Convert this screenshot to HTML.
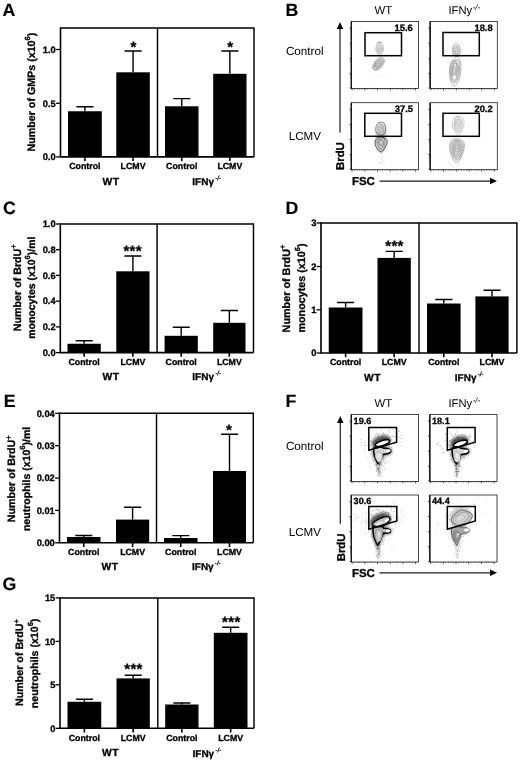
<!DOCTYPE html>
<html lang="en"><head><meta charset="utf-8"><title>Figure</title>
<style>html,body{margin:0;padding:0;background:#fff}body{width:520px;height:763px;overflow:hidden}svg{display:block}text{font-family:"Liberation Sans",sans-serif;fill:#000;text-rendering:geometricPrecision}.b{stroke:#000;stroke-width:0.3px}</style>
</head><body>
<svg width="520" height="763" viewBox="0 0 520 763">
<defs><filter id="b1" x="-50%" y="-50%" width="200%" height="200%"><feGaussianBlur stdDeviation="1.2"/></filter><filter id="b2" x="-50%" y="-50%" width="200%" height="200%"><feGaussianBlur stdDeviation="1.6"/></filter></defs>
<rect width="520" height="763" fill="#fff"/>
<text class="b" x="2.56" y="15.6" font-size="17.8" font-weight="bold" text-anchor="start" style="stroke-width:0.15px">A</text>
<text class="b" x="285.41" y="15.5" font-size="17.8" font-weight="bold" text-anchor="start" style="stroke-width:0.15px">B</text>
<text class="b" x="3.07" y="214.4" font-size="17.8" font-weight="bold" text-anchor="start" style="stroke-width:0.15px">C</text>
<text class="b" x="285.41" y="214.3" font-size="17.8" font-weight="bold" text-anchor="start" style="stroke-width:0.15px">D</text>
<text class="b" x="3.71" y="407" font-size="17.8" font-weight="bold" text-anchor="start" style="stroke-width:0.15px">E</text>
<text class="b" x="285.61" y="406.8" font-size="17.8" font-weight="bold" text-anchor="start" style="stroke-width:0.15px">F</text>
<text class="b" x="2.57" y="589.9" font-size="17.8" font-weight="bold" text-anchor="start" style="stroke-width:0.15px">G</text>
<g id="panelA">
<path d="M60.5 27.25V156.9M59.75 156.9H254" stroke="#000" stroke-width="1.6" fill="none"/>
<path d="M60.5 28H254V156.9M157.5 28V156.9" stroke="#000" stroke-width="1.45" fill="none"/>
<path d="M56.1 49.5H60.5" stroke="#000" stroke-width="1.3"/>
<text class="b" x="55.8" y="52.75" font-size="9.3" font-weight="bold" text-anchor="end" >1.0</text>
<path d="M56.1 103.3H60.5" stroke="#000" stroke-width="1.3"/>
<text class="b" x="55.8" y="106.55" font-size="9.3" font-weight="bold" text-anchor="end" >0.5</text>
<path d="M56.1 156.9H60.5" stroke="#000" stroke-width="1.3"/>
<text class="b" x="55.8" y="160.15" font-size="9.3" font-weight="bold" text-anchor="end" >0.0</text>
<rect x="68" y="111.25" width="33.8" height="45.650000000000006" fill="#000"/>
<path d="M84.9 111.25V106.75M76.4 106.75H93.5" stroke="#000" stroke-width="1.4" fill="none"/>
<path d="M84.9 156.9V161.1" stroke="#000" stroke-width="1.6"/>
<text class="b" x="84.9" y="169.0" font-size="8.8" font-weight="bold" text-anchor="middle" >Control</text>
<rect x="116.3" y="72.3" width="33.500000000000014" height="84.60000000000001" fill="#000"/>
<path d="M133.05 72.3V51M124.55000000000001 51H141.65" stroke="#000" stroke-width="1.4" fill="none"/>
<path d="M133.05 156.9V161.1" stroke="#000" stroke-width="1.6"/>
<text class="b" x="133.05" y="169.0" font-size="8.8" font-weight="bold" text-anchor="middle" >LCMV</text>
<rect x="165" y="106.3" width="33.5" height="50.60000000000001" fill="#000"/>
<path d="M181.75 106.3V98.6M173.25 98.6H190.35" stroke="#000" stroke-width="1.4" fill="none"/>
<path d="M181.75 156.9V161.1" stroke="#000" stroke-width="1.6"/>
<text class="b" x="181.75" y="169.0" font-size="8.8" font-weight="bold" text-anchor="middle" >Control</text>
<rect x="213.2" y="73.8" width="33.30000000000001" height="83.10000000000001" fill="#000"/>
<path d="M229.85 73.8V51M221.35 51H238.45" stroke="#000" stroke-width="1.4" fill="none"/>
<path d="M229.85 156.9V161.1" stroke="#000" stroke-width="1.6"/>
<text class="b" x="229.85" y="169.0" font-size="8.8" font-weight="bold" text-anchor="middle" >LCMV</text>
<text class="b" x="133.5" y="52.3" font-size="15" font-weight="bold" text-anchor="middle" >*</text>
<text class="b" x="230.2" y="52.3" font-size="15" font-weight="bold" text-anchor="middle" >*</text>
<text class="b" x="102.4" y="184.5" font-size="10.3" font-weight="bold" text-anchor="start" letter-spacing="0.7">WT</text>
<text class="b" x="192.3" y="185.0" font-size="10" font-weight="bold">IFNγ<tspan dx="1.2" dy="-5.2" font-size="6.2" font-style="italic" stroke-width="0.15">-/-</tspan></text>
<text class="b" transform="translate(34.5 151.5) rotate(-90)" font-size="10.7" font-weight="bold">Number of GMPs (x10<tspan dy="-5" font-size="7.5">6</tspan><tspan dy="5">)</tspan></text>
</g>
<g id="panelC">
<path d="M60.3 223.25V352.6M59.55 352.6H253.5" stroke="#000" stroke-width="1.6" fill="none"/>
<path d="M60.3 224H253.5V352.6M157.1 224V352.6" stroke="#000" stroke-width="1.45" fill="none"/>
<path d="M55.9 224H60.3" stroke="#000" stroke-width="1.3"/>
<text class="b" x="55.599999999999994" y="227.25" font-size="9.3" font-weight="bold" text-anchor="end" >1.0</text>
<path d="M55.9 249.7H60.3" stroke="#000" stroke-width="1.3"/>
<text class="b" x="55.599999999999994" y="252.95" font-size="9.3" font-weight="bold" text-anchor="end" >0.8</text>
<path d="M55.9 275.4H60.3" stroke="#000" stroke-width="1.3"/>
<text class="b" x="55.599999999999994" y="278.65" font-size="9.3" font-weight="bold" text-anchor="end" >0.6</text>
<path d="M55.9 301.2H60.3" stroke="#000" stroke-width="1.3"/>
<text class="b" x="55.599999999999994" y="304.45" font-size="9.3" font-weight="bold" text-anchor="end" >0.4</text>
<path d="M55.9 326.9H60.3" stroke="#000" stroke-width="1.3"/>
<text class="b" x="55.599999999999994" y="330.15" font-size="9.3" font-weight="bold" text-anchor="end" >0.2</text>
<path d="M55.9 352.6H60.3" stroke="#000" stroke-width="1.3"/>
<text class="b" x="55.599999999999994" y="355.85" font-size="9.3" font-weight="bold" text-anchor="end" >0.0</text>
<rect x="67.5" y="343.75" width="33.25" height="8.850000000000023" fill="#000"/>
<path d="M84.125 343.75V340.75M75.625 340.75H92.725" stroke="#000" stroke-width="1.4" fill="none"/>
<path d="M84.125 352.6V356.8" stroke="#000" stroke-width="1.6"/>
<text class="b" x="84.125" y="364.5" font-size="8.8" font-weight="bold" text-anchor="middle" >Control</text>
<rect x="116.3" y="271.3" width="33.2" height="81.30000000000001" fill="#000"/>
<path d="M132.9 271.3V256M124.4 256H141.5" stroke="#000" stroke-width="1.4" fill="none"/>
<path d="M132.9 352.6V356.8" stroke="#000" stroke-width="1.6"/>
<text class="b" x="132.9" y="364.5" font-size="8.8" font-weight="bold" text-anchor="middle" >LCMV</text>
<rect x="164.6" y="335.8" width="33.20000000000002" height="16.80000000000001" fill="#000"/>
<path d="M181.2 335.8V327.2M172.7 327.2H189.79999999999998" stroke="#000" stroke-width="1.4" fill="none"/>
<path d="M181.2 352.6V356.8" stroke="#000" stroke-width="1.6"/>
<text class="b" x="181.2" y="364.5" font-size="8.8" font-weight="bold" text-anchor="middle" >Control</text>
<rect x="213.2" y="322.8" width="32.30000000000001" height="29.80000000000001" fill="#000"/>
<path d="M229.35 322.8V310.5M220.85 310.5H237.95" stroke="#000" stroke-width="1.4" fill="none"/>
<path d="M229.35 352.6V356.8" stroke="#000" stroke-width="1.6"/>
<text class="b" x="229.35" y="364.5" font-size="8.8" font-weight="bold" text-anchor="middle" >LCMV</text>
<text class="b" x="132.7" y="256.1" font-size="15" font-weight="bold" text-anchor="middle" letter-spacing="0.35">***</text>
<text class="b" x="102.4" y="379.8" font-size="10.3" font-weight="bold" text-anchor="start" letter-spacing="0.7">WT</text>
<text class="b" x="192.3" y="380.3" font-size="10" font-weight="bold">IFNγ<tspan dx="1.2" dy="-5.2" font-size="6.2" font-style="italic" stroke-width="0.15">-/-</tspan></text>
<text class="b" transform="translate(20.5 331.2) rotate(-90)" font-size="10.7" font-weight="bold">Number of BrdU<tspan dy="-4.6" font-size="7.5">+</tspan></text>
<text class="b" transform="translate(35.2 338.8) rotate(-90)" font-size="10.5" font-weight="bold">monocytes (x10<tspan dy="-5" font-size="7.5">6</tspan><tspan dy="5">)/ml</tspan></text>
</g>
<g id="panelD">
<path d="M321 222.15V353M320.25 353H516.9" stroke="#000" stroke-width="1.6" fill="none"/>
<path d="M321 222.9H516.9V353M419 222.9V353" stroke="#000" stroke-width="1.45" fill="none"/>
<path d="M316.6 223H321" stroke="#000" stroke-width="1.3"/>
<text class="b" x="316.3" y="226.25" font-size="9.3" font-weight="bold" text-anchor="end" >3</text>
<path d="M316.6 266.5H321" stroke="#000" stroke-width="1.3"/>
<text class="b" x="316.3" y="269.75" font-size="9.3" font-weight="bold" text-anchor="end" >2</text>
<path d="M316.6 309.8H321" stroke="#000" stroke-width="1.3"/>
<text class="b" x="316.3" y="313.05" font-size="9.3" font-weight="bold" text-anchor="end" >1</text>
<path d="M316.6 353H321" stroke="#000" stroke-width="1.3"/>
<text class="b" x="316.3" y="356.25" font-size="9.3" font-weight="bold" text-anchor="end" >0</text>
<rect x="328.75" y="307.5" width="33.75" height="45.5" fill="#000"/>
<path d="M345.625 307.5V302.5M337.125 302.5H354.225" stroke="#000" stroke-width="1.4" fill="none"/>
<path d="M345.625 353V357.2" stroke="#000" stroke-width="1.6"/>
<text class="b" x="345.625" y="365.2" font-size="8.8" font-weight="bold" text-anchor="middle" >Control</text>
<rect x="377.5" y="257.9" width="33.30000000000001" height="95.10000000000002" fill="#000"/>
<path d="M394.15 257.9V251.4M385.65 251.4H402.75" stroke="#000" stroke-width="1.4" fill="none"/>
<path d="M394.15 353V357.2" stroke="#000" stroke-width="1.6"/>
<text class="b" x="394.15" y="365.2" font-size="8.8" font-weight="bold" text-anchor="middle" >LCMV</text>
<rect x="427" y="303.5" width="33.60000000000002" height="49.5" fill="#000"/>
<path d="M443.8 303.5V299.5M435.3 299.5H452.40000000000003" stroke="#000" stroke-width="1.4" fill="none"/>
<path d="M443.8 353V357.2" stroke="#000" stroke-width="1.6"/>
<text class="b" x="443.8" y="365.2" font-size="8.8" font-weight="bold" text-anchor="middle" >Control</text>
<rect x="475.4" y="296.4" width="33.200000000000045" height="56.60000000000002" fill="#000"/>
<path d="M492.0 296.4V290.2M483.5 290.2H500.6" stroke="#000" stroke-width="1.4" fill="none"/>
<path d="M492.0 353V357.2" stroke="#000" stroke-width="1.6"/>
<text class="b" x="492.0" y="365.2" font-size="8.8" font-weight="bold" text-anchor="middle" >LCMV</text>
<text class="b" x="394.5" y="251.3" font-size="15" font-weight="bold" text-anchor="middle" letter-spacing="0.35">***</text>
<text class="b" x="363.9" y="380.59999999999997" font-size="10.3" font-weight="bold" text-anchor="start" letter-spacing="0.7">WT</text>
<text class="b" x="454.8" y="381.09999999999997" font-size="10" font-weight="bold">IFNγ<tspan dx="1.2" dy="-5.2" font-size="6.2" font-style="italic" stroke-width="0.15">-/-</tspan></text>
<text class="b" transform="translate(289.6 332.4) rotate(-90)" font-size="10.8" font-weight="bold">Number of BrdU<tspan dy="-4.6" font-size="7.5">+</tspan></text>
<text class="b" transform="translate(304.6 332.5) rotate(-90)" font-size="10.75" font-weight="bold">monocytes (x10<tspan dy="-5" font-size="7.5">6</tspan><tspan dy="5">)</tspan></text>
</g>
<g id="panelE">
<path d="M59.5 412.55V542.8M58.75 542.8H253.3" stroke="#000" stroke-width="1.6" fill="none"/>
<path d="M59.5 413.3H253.3V542.8M156.5 413.3V542.8" stroke="#000" stroke-width="1.45" fill="none"/>
<path d="M55.1 413.3H59.5" stroke="#000" stroke-width="1.3"/>
<text class="b" x="54.8" y="416.55" font-size="9.3" font-weight="bold" text-anchor="end" >0.04</text>
<path d="M55.1 445.7H59.5" stroke="#000" stroke-width="1.3"/>
<text class="b" x="54.8" y="448.95" font-size="9.3" font-weight="bold" text-anchor="end" >0.03</text>
<path d="M55.1 478.1H59.5" stroke="#000" stroke-width="1.3"/>
<text class="b" x="54.8" y="481.35" font-size="9.3" font-weight="bold" text-anchor="end" >0.02</text>
<path d="M55.1 510.4H59.5" stroke="#000" stroke-width="1.3"/>
<text class="b" x="54.8" y="513.65" font-size="9.3" font-weight="bold" text-anchor="end" >0.01</text>
<path d="M55.1 542.8H59.5" stroke="#000" stroke-width="1.3"/>
<text class="b" x="54.8" y="546.05" font-size="9.3" font-weight="bold" text-anchor="end" >0.00</text>
<rect x="67" y="537" width="33.5" height="5.7999999999999545" fill="#000"/>
<path d="M83.75 537V535.5M75.25 535.5H92.35" stroke="#000" stroke-width="1.4" fill="none"/>
<path d="M83.75 542.8V547.0" stroke="#000" stroke-width="1.6"/>
<text class="b" x="83.75" y="554.9" font-size="8.8" font-weight="bold" text-anchor="middle" >Control</text>
<rect x="116" y="519.6" width="33.19999999999999" height="23.199999999999932" fill="#000"/>
<path d="M132.6 519.6V507.3M124.1 507.3H141.2" stroke="#000" stroke-width="1.4" fill="none"/>
<path d="M132.6 542.8V547.0" stroke="#000" stroke-width="1.6"/>
<text class="b" x="132.6" y="554.9" font-size="8.8" font-weight="bold" text-anchor="middle" >LCMV</text>
<rect x="164" y="538" width="33.5" height="4.7999999999999545" fill="#000"/>
<path d="M180.75 538V535.6M172.25 535.6H189.35" stroke="#000" stroke-width="1.4" fill="none"/>
<path d="M180.75 542.8V547.0" stroke="#000" stroke-width="1.6"/>
<text class="b" x="180.75" y="554.9" font-size="8.8" font-weight="bold" text-anchor="middle" >Control</text>
<rect x="213" y="471" width="33" height="71.79999999999995" fill="#000"/>
<path d="M229.5 471V434.2M221.0 434.2H238.1" stroke="#000" stroke-width="1.4" fill="none"/>
<path d="M229.5 542.8V547.0" stroke="#000" stroke-width="1.6"/>
<text class="b" x="229.5" y="554.9" font-size="8.8" font-weight="bold" text-anchor="middle" >LCMV</text>
<text class="b" x="229" y="434.6" font-size="15" font-weight="bold" text-anchor="middle" >*</text>
<text class="b" x="101.4" y="569.8000000000001" font-size="10.3" font-weight="bold" text-anchor="start" letter-spacing="0.7">WT</text>
<text class="b" x="192" y="570.3000000000001" font-size="10" font-weight="bold">IFNγ<tspan dx="1.2" dy="-5.2" font-size="6.2" font-style="italic" stroke-width="0.15">-/-</tspan></text>
<text class="b" transform="translate(15.1 522.2) rotate(-90)" font-size="10.7" font-weight="bold">Number of BrdU<tspan dy="-4.6" font-size="7.5">+</tspan></text>
<text class="b" transform="translate(30.3 531.1) rotate(-90)" font-size="10.56" font-weight="bold">neutrophils (x10<tspan dy="-5" font-size="7.5">6</tspan><tspan dy="5">)/ml</tspan></text>
</g>
<g id="panelG">
<path d="M60 597.15V728.3M59.25 728.3H254" stroke="#000" stroke-width="1.6" fill="none"/>
<path d="M60 597.9H254V728.3M157.8 597.9V728.3" stroke="#000" stroke-width="1.45" fill="none"/>
<path d="M55.6 597.9H60" stroke="#000" stroke-width="1.3"/>
<text class="b" x="55.3" y="601.15" font-size="9.3" font-weight="bold" text-anchor="end" >15</text>
<path d="M55.6 641.4H60" stroke="#000" stroke-width="1.3"/>
<text class="b" x="55.3" y="644.65" font-size="9.3" font-weight="bold" text-anchor="end" >10</text>
<path d="M55.6 684.8H60" stroke="#000" stroke-width="1.3"/>
<text class="b" x="55.3" y="688.05" font-size="9.3" font-weight="bold" text-anchor="end" >5</text>
<path d="M55.6 728.3H60" stroke="#000" stroke-width="1.3"/>
<text class="b" x="55.3" y="731.55" font-size="9.3" font-weight="bold" text-anchor="end" >0</text>
<rect x="67.5" y="701.75" width="33.75" height="26.549999999999955" fill="#000"/>
<path d="M84.375 701.75V699.25M75.875 699.25H92.975" stroke="#000" stroke-width="1.4" fill="none"/>
<path d="M84.375 728.3V732.5" stroke="#000" stroke-width="1.6"/>
<text class="b" x="84.375" y="740.5" font-size="8.8" font-weight="bold" text-anchor="middle" >Control</text>
<rect x="116.5" y="678.4" width="33.30000000000001" height="49.89999999999998" fill="#000"/>
<path d="M133.15 678.4V675.2M124.65 675.2H141.75" stroke="#000" stroke-width="1.4" fill="none"/>
<path d="M133.15 728.3V732.5" stroke="#000" stroke-width="1.6"/>
<text class="b" x="133.15" y="740.5" font-size="8.8" font-weight="bold" text-anchor="middle" >LCMV</text>
<rect x="165.2" y="704.5" width="33.30000000000001" height="23.799999999999955" fill="#000"/>
<path d="M181.85 704.5V703M173.35 703H190.45" stroke="#000" stroke-width="1.4" fill="none"/>
<path d="M181.85 728.3V732.5" stroke="#000" stroke-width="1.6"/>
<text class="b" x="181.85" y="740.5" font-size="8.8" font-weight="bold" text-anchor="middle" >Control</text>
<rect x="213.8" y="632.8" width="33.69999999999999" height="95.5" fill="#000"/>
<path d="M230.65 632.8V627.3M222.15 627.3H239.25" stroke="#000" stroke-width="1.4" fill="none"/>
<path d="M230.65 728.3V732.5" stroke="#000" stroke-width="1.6"/>
<text class="b" x="230.65" y="740.5" font-size="8.8" font-weight="bold" text-anchor="middle" >LCMV</text>
<text class="b" x="133.5" y="674.3" font-size="15" font-weight="bold" text-anchor="middle" letter-spacing="0.35">***</text>
<text class="b" x="231.3" y="626.9" font-size="15" font-weight="bold" text-anchor="middle" letter-spacing="0.35">***</text>
<text class="b" x="101.9" y="756.2" font-size="10.3" font-weight="bold" text-anchor="start" letter-spacing="0.7">WT</text>
<text class="b" x="192.5" y="756.7" font-size="10" font-weight="bold">IFNγ<tspan dx="1.2" dy="-5.2" font-size="6.2" font-style="italic" stroke-width="0.15">-/-</tspan></text>
<text class="b" transform="translate(23.4 706) rotate(-90)" font-size="10.7" font-weight="bold">Number of BrdU<tspan dy="-4.6" font-size="7.5">+</tspan></text>
<text class="b" transform="translate(38.4 708.2) rotate(-90)" font-size="10.6" font-weight="bold">neutrophils (x10<tspan dy="-5" font-size="7.5">6</tspan><tspan dy="5">)</tspan></text>
</g>
<g id="panelB">
<path d="M340 27V132.5" stroke="#1a1a1a" stroke-width="1.2" fill="none"/>
<path d="M340 22l-3.2 7h6.4z" fill="#000"/>
<text transform="translate(344.2 170) rotate(-90)" class="b" font-size="11.4" font-weight="bold">BrdU</text>
<text class="b" x="351.9" y="185" font-size="11.5" font-weight="bold" text-anchor="start" >FSC</text>
<path d="M379.5 181.15H492" stroke="#1a1a1a" stroke-width="1.25" fill="none"/>
<path d="M497 181l-7 -3.2v6.4z" fill="#000"/>
<text x="374.6" y="13.8" font-size="11.4" font-weight="normal" text-anchor="start" >WT</text>
<text x="448.5" y="13.8" font-size="11.2">IFNy<tspan dx="0.5" dy="-4.2" font-size="8" font-style="italic">-/-</tspan></text>
<text x="285.9" y="55.4" font-size="11.7" font-weight="normal" text-anchor="start" >Control</text>
<text x="288.8" y="140.39999999999998" font-size="11.6" font-weight="normal" text-anchor="start" >LCMV</text>
<rect x="351.5" y="21.5" width="67" height="67" fill="#fff" stroke="#1a1a1a" stroke-width="0.8"/>
<path d="M351.25 21.5V88.5" stroke="#111" stroke-width="1.3" fill="none"/>
<path d="M351.5 28.0h-1.9M351.5 43.1h-1.9M351.5 58.2h-1.9M351.5 73.3h-1.9M351.5 88.0h-1.9M352.1 88.5v1.9M364.8 88.5v1.9M377.5 88.5v1.9M390.2 88.5v1.9M402.9 88.5v1.9M415.6 88.5v1.9" stroke="#111" stroke-width="0.8" fill="none"/>
<path d="M351.5 38.6h-1.1M351.5 35.9h-1.1M351.5 34.0h-1.1M351.5 32.5h-1.1M351.5 31.3h-1.1M351.5 30.3h-1.1M351.5 29.5h-1.1M351.5 28.7h-1.1M351.5 53.7h-1.1M351.5 51.0h-1.1M351.5 49.1h-1.1M351.5 47.6h-1.1M351.5 46.4h-1.1M351.5 45.4h-1.1M351.5 44.6h-1.1M351.5 43.8h-1.1M351.5 68.8h-1.1M351.5 66.1h-1.1M351.5 64.2h-1.1M351.5 62.7h-1.1M351.5 61.5h-1.1M351.5 60.5h-1.1M351.5 59.7h-1.1M351.5 58.9h-1.1M351.5 83.6h-1.1M351.5 81.0h-1.1M351.5 79.1h-1.1M351.5 77.7h-1.1M351.5 76.6h-1.1M351.5 75.6h-1.1M351.5 74.7h-1.1M351.5 74.0h-1.1M351.5 23.5h-1.1M354.6 88.5v1.1M357.2 88.5v1.1M359.7 88.5v1.1M362.3 88.5v1.1M367.3 88.5v1.1M369.9 88.5v1.1M372.4 88.5v1.1M375.0 88.5v1.1M380.0 88.5v1.1M382.6 88.5v1.1M385.1 88.5v1.1M387.7 88.5v1.1M392.7 88.5v1.1M395.3 88.5v1.1M397.8 88.5v1.1M400.4 88.5v1.1M405.4 88.5v1.1M408.0 88.5v1.1M410.5 88.5v1.1M413.1 88.5v1.1" stroke="#222" stroke-width="0.55" fill="none"/>
<rect x="430.3" y="21.5" width="67" height="67" fill="#fff" stroke="#1a1a1a" stroke-width="0.8"/>
<path d="M430.05 21.5V88.5" stroke="#111" stroke-width="1.3" fill="none"/>
<path d="M430.3 28.0h-1.9M430.3 43.1h-1.9M430.3 58.2h-1.9M430.3 73.3h-1.9M430.3 88.0h-1.9M430.9 88.5v1.9M443.6 88.5v1.9M456.3 88.5v1.9M469.0 88.5v1.9M481.7 88.5v1.9M494.4 88.5v1.9" stroke="#111" stroke-width="0.8" fill="none"/>
<path d="M430.3 38.6h-1.1M430.3 35.9h-1.1M430.3 34.0h-1.1M430.3 32.5h-1.1M430.3 31.3h-1.1M430.3 30.3h-1.1M430.3 29.5h-1.1M430.3 28.7h-1.1M430.3 53.7h-1.1M430.3 51.0h-1.1M430.3 49.1h-1.1M430.3 47.6h-1.1M430.3 46.4h-1.1M430.3 45.4h-1.1M430.3 44.6h-1.1M430.3 43.8h-1.1M430.3 68.8h-1.1M430.3 66.1h-1.1M430.3 64.2h-1.1M430.3 62.7h-1.1M430.3 61.5h-1.1M430.3 60.5h-1.1M430.3 59.7h-1.1M430.3 58.9h-1.1M430.3 83.6h-1.1M430.3 81.0h-1.1M430.3 79.1h-1.1M430.3 77.7h-1.1M430.3 76.6h-1.1M430.3 75.6h-1.1M430.3 74.7h-1.1M430.3 74.0h-1.1M430.3 23.5h-1.1M433.4 88.5v1.1M436.0 88.5v1.1M438.5 88.5v1.1M441.1 88.5v1.1M446.1 88.5v1.1M448.7 88.5v1.1M451.2 88.5v1.1M453.8 88.5v1.1M458.8 88.5v1.1M461.4 88.5v1.1M463.9 88.5v1.1M466.5 88.5v1.1M471.5 88.5v1.1M474.1 88.5v1.1M476.6 88.5v1.1M479.2 88.5v1.1M484.2 88.5v1.1M486.8 88.5v1.1M489.3 88.5v1.1M491.9 88.5v1.1" stroke="#222" stroke-width="0.55" fill="none"/>
<rect x="351.5" y="102.7" width="67" height="67" fill="#fff" stroke="#1a1a1a" stroke-width="0.8"/>
<path d="M351.25 102.7V169.7" stroke="#111" stroke-width="1.3" fill="none"/>
<path d="M351.5 109.2h-1.9M351.5 124.3h-1.9M351.5 139.4h-1.9M351.5 154.5h-1.9M351.5 169.2h-1.9M352.1 169.7v1.9M364.8 169.7v1.9M377.5 169.7v1.9M390.2 169.7v1.9M402.9 169.7v1.9M415.6 169.7v1.9" stroke="#111" stroke-width="0.8" fill="none"/>
<path d="M351.5 119.8h-1.1M351.5 117.1h-1.1M351.5 115.2h-1.1M351.5 113.7h-1.1M351.5 112.5h-1.1M351.5 111.5h-1.1M351.5 110.7h-1.1M351.5 109.9h-1.1M351.5 134.9h-1.1M351.5 132.2h-1.1M351.5 130.3h-1.1M351.5 128.8h-1.1M351.5 127.6h-1.1M351.5 126.6h-1.1M351.5 125.8h-1.1M351.5 125.0h-1.1M351.5 150.0h-1.1M351.5 147.3h-1.1M351.5 145.4h-1.1M351.5 143.9h-1.1M351.5 142.7h-1.1M351.5 141.7h-1.1M351.5 140.9h-1.1M351.5 140.1h-1.1M351.5 164.8h-1.1M351.5 162.2h-1.1M351.5 160.3h-1.1M351.5 158.9h-1.1M351.5 157.8h-1.1M351.5 156.8h-1.1M351.5 155.9h-1.1M351.5 155.2h-1.1M351.5 104.7h-1.1M354.6 169.7v1.1M357.2 169.7v1.1M359.7 169.7v1.1M362.3 169.7v1.1M367.3 169.7v1.1M369.9 169.7v1.1M372.4 169.7v1.1M375.0 169.7v1.1M380.0 169.7v1.1M382.6 169.7v1.1M385.1 169.7v1.1M387.7 169.7v1.1M392.7 169.7v1.1M395.3 169.7v1.1M397.8 169.7v1.1M400.4 169.7v1.1M405.4 169.7v1.1M408.0 169.7v1.1M410.5 169.7v1.1M413.1 169.7v1.1" stroke="#222" stroke-width="0.55" fill="none"/>
<rect x="430.3" y="102.7" width="67" height="67" fill="#fff" stroke="#1a1a1a" stroke-width="0.8"/>
<path d="M430.05 102.7V169.7" stroke="#111" stroke-width="1.3" fill="none"/>
<path d="M430.3 109.2h-1.9M430.3 124.3h-1.9M430.3 139.4h-1.9M430.3 154.5h-1.9M430.3 169.2h-1.9M430.9 169.7v1.9M443.6 169.7v1.9M456.3 169.7v1.9M469.0 169.7v1.9M481.7 169.7v1.9M494.4 169.7v1.9" stroke="#111" stroke-width="0.8" fill="none"/>
<path d="M430.3 119.8h-1.1M430.3 117.1h-1.1M430.3 115.2h-1.1M430.3 113.7h-1.1M430.3 112.5h-1.1M430.3 111.5h-1.1M430.3 110.7h-1.1M430.3 109.9h-1.1M430.3 134.9h-1.1M430.3 132.2h-1.1M430.3 130.3h-1.1M430.3 128.8h-1.1M430.3 127.6h-1.1M430.3 126.6h-1.1M430.3 125.8h-1.1M430.3 125.0h-1.1M430.3 150.0h-1.1M430.3 147.3h-1.1M430.3 145.4h-1.1M430.3 143.9h-1.1M430.3 142.7h-1.1M430.3 141.7h-1.1M430.3 140.9h-1.1M430.3 140.1h-1.1M430.3 164.8h-1.1M430.3 162.2h-1.1M430.3 160.3h-1.1M430.3 158.9h-1.1M430.3 157.8h-1.1M430.3 156.8h-1.1M430.3 155.9h-1.1M430.3 155.2h-1.1M430.3 104.7h-1.1M433.4 169.7v1.1M436.0 169.7v1.1M438.5 169.7v1.1M441.1 169.7v1.1M446.1 169.7v1.1M448.7 169.7v1.1M451.2 169.7v1.1M453.8 169.7v1.1M458.8 169.7v1.1M461.4 169.7v1.1M463.9 169.7v1.1M466.5 169.7v1.1M471.5 169.7v1.1M474.1 169.7v1.1M476.6 169.7v1.1M479.2 169.7v1.1M484.2 169.7v1.1M486.8 169.7v1.1M489.3 169.7v1.1M491.9 169.7v1.1" stroke="#222" stroke-width="0.55" fill="none"/>
<g filter="url(#b1)" opacity="0.35"><ellipse cx="378.5" cy="63.8" rx="7" ry="3.6" transform="rotate(-47 378.5 63.8)" stroke="none" stroke-width="0" fill="#888" /><ellipse cx="379.6" cy="48" rx="3" ry="5.5" transform="rotate(0 379.6 48)" stroke="none" stroke-width="0" fill="#aaa" /></g>
<path d="M383.3 48.2C383.3 49.1 383.2 49.9 383.1 50.8C382.9 51.6 382.8 52.6 382.4 53.3C382.0 53.9 381.3 54.5 380.6 54.7C380.0 54.8 379.2 54.5 378.6 54.2C378.0 53.9 377.5 53.4 377.1 52.9C376.6 52.3 376.2 51.6 376.1 50.8C375.9 50.0 375.9 49.1 375.9 48.2C376.0 47.3 376.1 46.4 376.4 45.5C376.6 44.6 376.9 43.6 377.4 43.0C377.8 42.4 378.4 42.1 378.9 42.0C379.3 41.9 379.8 42.2 380.3 42.5C380.7 42.7 381.2 42.9 381.7 43.4C382.1 43.9 382.6 44.6 382.9 45.4C383.2 46.2 383.2 47.3 383.3 48.2Z" fill="none" stroke="#999" stroke-width="0.6" opacity="1"/>
<path d="M382.3 49.0C382.3 49.5 382.2 50.2 382.0 50.6C381.8 51.1 381.6 51.5 381.3 51.9C381.0 52.2 380.7 52.7 380.3 52.9C380.0 53.1 379.4 53.2 379.0 53.0C378.6 52.9 378.2 52.6 377.9 52.2C377.6 51.8 377.4 51.3 377.2 50.8C377.1 50.2 377.1 49.5 377.2 49.0C377.3 48.4 377.6 47.8 377.8 47.3C378.0 46.8 378.2 46.4 378.4 46.0C378.7 45.6 378.9 45.0 379.2 44.8C379.5 44.6 379.9 44.7 380.2 44.8C380.5 45.0 380.8 45.5 381.0 45.9C381.3 46.3 381.6 46.7 381.8 47.2C382.0 47.7 382.3 48.4 382.3 49.0Z" fill="none" stroke="#999" stroke-width="0.6" opacity="1"/>
<path d="M380.9 49.7C380.9 50.0 380.9 50.2 380.8 50.5C380.8 50.7 380.7 50.9 380.6 51.1C380.5 51.3 380.3 51.5 380.1 51.6C379.9 51.7 379.7 51.8 379.5 51.7C379.3 51.6 379.1 51.4 379.0 51.1C378.9 50.9 378.9 50.7 378.8 50.4C378.8 50.2 378.7 50.0 378.7 49.7C378.7 49.4 378.7 49.1 378.8 48.8C378.9 48.6 379.0 48.4 379.2 48.2C379.3 48.1 379.4 48.0 379.6 47.9C379.7 47.9 379.9 47.8 380.0 47.9C380.2 47.9 380.3 48.0 380.5 48.2C380.6 48.3 380.7 48.6 380.8 48.9C380.8 49.1 380.9 49.4 380.9 49.7Z" fill="none" stroke="#999" stroke-width="0.6" opacity="1"/>
<path d="M377.6 42.6h4.2" stroke="#888" stroke-width="0.7"/>
<path d="M383.5 58.5C383.9 58.9 384.2 59.4 384.4 60.0C384.5 60.6 384.5 61.4 384.2 62.3C384.0 63.1 383.5 64.2 382.8 65.2C382.2 66.2 381.3 67.5 380.3 68.4C379.4 69.2 378.1 69.9 377.3 70.2C376.4 70.5 375.7 70.2 375.0 70.1C374.4 69.9 373.8 69.7 373.4 69.3C373.0 68.9 372.4 68.3 372.4 67.6C372.4 66.8 372.8 65.7 373.2 64.8C373.6 63.9 374.2 63.1 374.8 62.3C375.3 61.4 375.8 60.5 376.5 59.8C377.3 59.0 378.3 58.0 379.2 57.6C380.1 57.2 381.2 57.2 381.9 57.4C382.6 57.5 383.1 58.0 383.5 58.5Z" fill="none" stroke="#8f8f8f" stroke-width="0.6" opacity="1"/>
<path d="M382.7 59.3C383.1 59.5 383.4 60.1 383.4 60.7C383.5 61.2 383.3 62.0 383.0 62.7C382.8 63.5 382.4 64.4 381.8 65.1C381.2 65.9 380.4 66.8 379.7 67.4C378.9 68.1 378.1 68.6 377.3 69.0C376.6 69.4 375.7 69.7 375.1 69.7C374.5 69.7 373.9 69.4 373.7 68.9C373.5 68.5 373.6 67.5 373.7 66.9C373.8 66.2 374.0 65.5 374.2 64.8C374.4 64.1 374.6 63.3 374.9 62.6C375.3 61.9 376.0 61.1 376.6 60.6C377.3 60.0 378.1 59.7 378.8 59.4C379.6 59.1 380.3 59.0 381.0 59.0C381.6 59.0 382.3 59.0 382.7 59.3Z" fill="none" stroke="#8f8f8f" stroke-width="0.6" opacity="1"/>
<path d="M381.6 60.5C381.9 60.7 382.2 61.0 382.3 61.5C382.3 62.0 381.9 62.7 381.6 63.3C381.4 63.8 381.1 64.4 380.7 65.0C380.3 65.7 379.9 66.6 379.3 67.1C378.7 67.7 377.9 68.2 377.3 68.4C376.7 68.6 376.3 68.3 375.9 68.2C375.5 68.1 375.1 67.9 374.9 67.7C374.6 67.4 374.3 67.0 374.3 66.6C374.3 66.1 374.5 65.4 374.7 64.8C374.9 64.3 375.2 63.7 375.5 63.2C375.9 62.6 376.3 61.9 376.8 61.5C377.3 61.1 378.0 60.8 378.5 60.6C379.1 60.4 379.6 60.4 380.1 60.4C380.6 60.4 381.2 60.3 381.6 60.5Z" fill="none" stroke="#8f8f8f" stroke-width="0.6" opacity="1"/>
<path d="M380.2 61.9C380.5 62.0 380.9 62.1 381.0 62.4C381.1 62.7 380.9 63.2 380.7 63.7C380.5 64.1 380.1 64.6 379.8 65.0C379.4 65.5 379.1 66.0 378.7 66.4C378.3 66.8 377.7 67.2 377.3 67.4C376.9 67.6 376.5 67.5 376.2 67.4C375.9 67.3 375.7 67.1 375.6 66.9C375.4 66.7 375.2 66.4 375.2 66.1C375.2 65.7 375.3 65.3 375.5 64.9C375.6 64.5 375.8 64.0 376.0 63.6C376.3 63.2 376.6 62.8 376.9 62.4C377.3 62.1 377.8 61.9 378.2 61.8C378.6 61.7 378.9 61.8 379.3 61.8C379.6 61.8 379.9 61.8 380.2 61.9Z" fill="none" stroke="#8f8f8f" stroke-width="0.6" opacity="1"/>
<path d="M379.2 63.0C379.3 63.1 379.4 63.3 379.4 63.5C379.4 63.7 379.4 63.9 379.3 64.2C379.2 64.4 379.1 64.7 378.9 65.0C378.7 65.3 378.4 65.6 378.2 65.8C377.9 66.0 377.6 66.1 377.4 66.2C377.1 66.4 376.9 66.5 376.6 66.5C376.4 66.5 376.2 66.5 376.1 66.4C376.0 66.2 376.0 65.9 376.0 65.6C376.1 65.4 376.2 65.1 376.3 64.9C376.4 64.6 376.5 64.4 376.6 64.2C376.8 63.9 376.9 63.7 377.2 63.5C377.4 63.3 377.6 63.1 377.9 63.0C378.1 62.8 378.4 62.8 378.7 62.8C378.9 62.8 379.1 62.9 379.2 63.0Z" fill="none" stroke="#8f8f8f" stroke-width="0.6" opacity="1"/>
<path d="M374.8 80.9h0.6M379.6 74.5h0.6M374.5 70.6h0.6M378.3 75.2h0.6M374.9 69.3h0.6M374.6 72.2h0.6M383.1 77.7h0.6M381.4 68.6h0.6M386.2 77.2h0.6M377.6 76.6h0.6M378.8 75.4h0.6M378.9 68.8h0.6M379.3 68.4h0.6M380.6 74.5h0.6" stroke="#ccc" stroke-width="0.6" fill="none"/>
<g filter="url(#b1)" opacity="0.35"><ellipse cx="455" cy="71" rx="4.5" ry="12" transform="rotate(4 455 71)" stroke="none" stroke-width="0" fill="#888" /><ellipse cx="456.4" cy="50" rx="3" ry="5.5" transform="rotate(0 456.4 50)" stroke="none" stroke-width="0" fill="#aaa" /></g>
<path d="M460.9 50.0C460.9 50.9 460.7 52.0 460.4 52.8C460.2 53.7 459.6 54.3 459.1 54.9C458.6 55.4 458.1 56.1 457.4 56.3C456.8 56.6 456.0 56.7 455.3 56.5C454.7 56.2 454.1 55.5 453.6 54.9C453.2 54.2 452.9 53.5 452.6 52.7C452.4 51.8 452.2 50.9 452.2 50.0C452.3 49.1 452.5 48.1 452.8 47.2C453.1 46.4 453.5 45.5 453.9 44.8C454.4 44.2 454.9 43.5 455.5 43.3C456.1 43.2 456.7 43.4 457.2 43.8C457.8 44.2 458.1 44.9 458.6 45.5C459.0 46.1 459.5 46.6 459.9 47.3C460.3 48.1 460.8 49.1 460.9 50.0Z" fill="none" stroke="#939393" stroke-width="0.6" opacity="1"/>
<path d="M459.7 50.5C459.8 51.2 459.9 52.2 459.6 52.8C459.4 53.4 458.9 53.8 458.4 54.1C458.0 54.4 457.5 54.4 457.1 54.6C456.6 54.8 456.1 55.2 455.6 55.2C455.1 55.2 454.5 55.0 454.1 54.5C453.8 54.1 453.6 53.3 453.4 52.6C453.3 51.9 453.2 51.2 453.3 50.5C453.3 49.8 453.3 48.9 453.6 48.3C453.8 47.7 454.3 47.2 454.6 46.8C455.0 46.4 455.4 46.3 455.8 46.1C456.2 45.9 456.6 45.7 457.0 45.8C457.4 45.9 457.9 46.2 458.2 46.7C458.6 47.1 458.8 47.9 459.0 48.5C459.3 49.1 459.6 49.8 459.7 50.5Z" fill="none" stroke="#939393" stroke-width="0.6" opacity="1"/>
<path d="M458.5 51.0C458.5 51.5 458.5 52.0 458.3 52.4C458.2 52.8 458.0 53.1 457.7 53.4C457.5 53.7 457.2 54.0 456.9 54.2C456.6 54.3 456.2 54.5 455.8 54.5C455.5 54.4 455.1 54.0 454.9 53.6C454.7 53.3 454.6 52.7 454.6 52.3C454.5 51.9 454.4 51.4 454.4 51.0C454.4 50.6 454.5 50.0 454.6 49.6C454.7 49.2 455.0 48.8 455.2 48.5C455.4 48.2 455.7 48.0 456.0 47.8C456.2 47.7 456.6 47.6 456.8 47.7C457.1 47.8 457.4 48.1 457.6 48.5C457.8 48.8 458.0 49.2 458.2 49.7C458.3 50.1 458.4 50.5 458.5 51.0Z" fill="none" stroke="#939393" stroke-width="0.6" opacity="1"/>
<path d="M457.5 51.5C457.5 51.7 457.4 52.0 457.4 52.2C457.3 52.4 457.2 52.5 457.1 52.7C456.9 52.8 456.8 53.0 456.7 53.1C456.5 53.2 456.3 53.2 456.1 53.2C456.0 53.1 455.8 52.9 455.7 52.8C455.6 52.6 455.5 52.4 455.4 52.2C455.4 52.0 455.4 51.7 455.4 51.5C455.4 51.3 455.5 51.0 455.5 50.8C455.6 50.6 455.7 50.4 455.8 50.2C455.9 50.1 456.0 49.9 456.2 49.8C456.3 49.7 456.5 49.8 456.6 49.9C456.8 50.0 456.9 50.2 457.0 50.3C457.1 50.5 457.2 50.6 457.3 50.8C457.4 51.0 457.5 51.3 457.5 51.5Z" fill="none" stroke="#939393" stroke-width="0.6" opacity="1"/>
<path d="M460.8 71.6C460.5 73.7 460.1 76.1 459.6 77.9C459.0 79.8 458.2 81.4 457.5 82.6C456.8 83.8 456.0 84.6 455.3 85.1C454.6 85.5 453.8 85.7 453.1 85.3C452.4 84.8 451.8 83.7 451.2 82.4C450.7 81.0 450.2 79.2 449.9 77.3C449.6 75.4 449.2 72.9 449.3 70.8C449.4 68.6 449.8 66.1 450.3 64.4C450.8 62.7 451.7 61.6 452.4 60.5C453.2 59.3 453.9 58.3 454.8 57.7C455.7 57.0 456.8 56.1 457.7 56.4C458.6 56.8 459.5 58.1 460.0 59.5C460.6 61.0 460.8 63.3 460.9 65.3C461.0 67.3 461.0 69.5 460.8 71.6Z" fill="none" stroke="#8f8f8f" stroke-width="0.6" opacity="1"/>
<path d="M459.6 71.3C459.4 73.0 459.1 75.1 458.7 76.6C458.2 78.1 457.5 79.6 456.9 80.5C456.3 81.4 455.7 81.7 455.1 82.0C454.5 82.3 453.9 82.6 453.3 82.3C452.8 82.0 452.1 81.4 451.7 80.3C451.3 79.2 451.0 77.5 450.7 75.9C450.4 74.3 450.2 72.4 450.2 70.6C450.2 68.8 450.3 66.5 450.7 65.0C451.1 63.5 451.9 62.4 452.6 61.7C453.3 60.9 454.0 61.0 454.7 60.6C455.4 60.2 456.2 59.4 456.9 59.5C457.7 59.6 458.6 60.0 459.1 61.1C459.6 62.1 459.8 64.2 459.8 65.9C459.9 67.6 459.8 69.5 459.6 71.3Z" fill="none" stroke="#8f8f8f" stroke-width="0.6" opacity="1"/>
<path d="M458.7 71.0C458.6 72.4 458.0 73.8 457.6 75.1C457.2 76.3 456.8 77.5 456.4 78.3C455.9 79.2 455.4 80.1 454.9 80.3C454.4 80.5 453.9 80.1 453.5 79.6C453.1 79.2 452.7 78.5 452.4 77.6C452.0 76.8 451.6 75.7 451.4 74.6C451.3 73.4 451.2 71.8 451.3 70.5C451.3 69.1 451.5 67.8 451.7 66.4C451.9 65.0 452.2 63.3 452.6 62.3C453.1 61.3 453.9 60.5 454.5 60.5C455.1 60.5 455.7 61.7 456.2 62.4C456.7 63.0 457.0 63.8 457.4 64.5C457.8 65.2 458.4 65.7 458.6 66.8C458.8 67.9 458.9 69.6 458.7 71.0Z" fill="none" stroke="#8f8f8f" stroke-width="0.6" opacity="1"/>
<path d="M457.1 70.6C457.0 71.6 456.7 72.5 456.5 73.4C456.3 74.3 456.1 75.5 455.8 76.2C455.5 76.9 455.0 77.5 454.7 77.6C454.3 77.8 454.0 77.3 453.6 76.9C453.3 76.6 453.0 76.4 452.7 75.8C452.4 75.2 452.0 74.5 451.9 73.6C451.8 72.6 451.9 71.2 452.0 70.3C452.1 69.3 452.4 68.6 452.6 67.8C452.8 66.9 452.9 65.9 453.2 65.1C453.5 64.3 454.0 63.2 454.4 62.9C454.8 62.6 455.4 63.0 455.8 63.3C456.2 63.7 456.5 64.4 456.8 65.2C457.0 65.9 457.3 66.7 457.3 67.6C457.4 68.5 457.2 69.7 457.1 70.6Z" fill="none" stroke="#8f8f8f" stroke-width="0.6" opacity="1"/>
<path d="M456.1 70.3C456.0 70.9 455.8 71.6 455.7 72.1C455.5 72.7 455.3 73.3 455.1 73.7C454.9 74.1 454.7 74.4 454.4 74.5C454.2 74.6 454.0 74.5 453.8 74.3C453.6 74.2 453.3 74.1 453.2 73.7C453.0 73.3 452.8 72.7 452.7 72.1C452.7 71.5 452.8 70.7 452.9 70.1C452.9 69.5 453.0 69.0 453.1 68.4C453.2 67.8 453.3 67.0 453.4 66.5C453.6 66.0 454.0 65.5 454.3 65.4C454.5 65.3 454.9 65.8 455.1 66.0C455.3 66.3 455.5 66.7 455.7 67.0C455.9 67.4 456.1 67.8 456.1 68.4C456.2 68.9 456.2 69.7 456.1 70.3Z" fill="none" stroke="#8f8f8f" stroke-width="0.6" opacity="1"/>
<ellipse cx="454.4" cy="77.4" rx="2" ry="2.6" transform="rotate(0 454.4 77.4)" stroke="#999" stroke-width="0.5" fill="#fff" />
<ellipse cx="455.3" cy="65.4" rx="0.9" ry="2" transform="rotate(10 455.3 65.4)" stroke="#aaa" stroke-width="0.4" fill="#fff" />
<path d="M451.2 86.7h0.6M456.2 84.6h0.6M458.4 85.1h0.6M455.7 87.2h0.6M454.0 86.2h0.6M451.7 86.6h0.6" stroke="#bbb" stroke-width="0.6" fill="none"/>
<g filter="url(#b1)" opacity="0.4"><ellipse cx="381" cy="138" rx="5.5" ry="15" transform="rotate(0 381 138)" stroke="none" stroke-width="0" fill="#777" /></g>
<path d="M385.7 128.6C385.7 129.6 385.7 130.7 385.5 131.7C385.2 132.6 384.8 133.6 384.2 134.2C383.7 134.8 382.7 135.1 382.0 135.2C381.2 135.4 380.4 135.2 379.7 134.9C378.9 134.7 378.1 134.5 377.5 134.0C376.9 133.5 376.3 132.7 376.0 131.8C375.7 130.9 375.6 129.7 375.7 128.6C375.8 127.5 376.1 126.4 376.5 125.5C376.9 124.5 377.5 123.7 378.0 123.1C378.6 122.6 379.3 122.4 379.9 122.3C380.5 122.1 381.1 122.1 381.7 122.2C382.3 122.3 383.1 122.4 383.7 122.9C384.2 123.5 384.9 124.5 385.2 125.4C385.5 126.4 385.6 127.6 385.7 128.6Z" fill="none" stroke="#555" stroke-width="0.75"/>
<path d="M383.9 129.2C384.0 130.0 384.0 130.8 383.9 131.5C383.7 132.2 383.5 133.1 383.1 133.6C382.7 134.1 382.1 134.3 381.6 134.3C381.1 134.4 380.6 134.1 380.1 133.9C379.6 133.6 379.2 133.4 378.8 133.0C378.4 132.6 378.0 132.1 377.8 131.5C377.6 130.8 377.5 130.0 377.5 129.2C377.5 128.4 377.7 127.5 377.9 126.8C378.1 126.1 378.5 125.4 378.9 125.0C379.3 124.6 379.8 124.4 380.2 124.3C380.6 124.2 381.0 124.3 381.4 124.4C381.8 124.6 382.3 124.7 382.6 125.1C383.0 125.6 383.4 126.2 383.6 126.9C383.8 127.6 383.9 128.4 383.9 129.2Z" fill="none" stroke="#999" stroke-width="0.55"/>
<path d="M382.4 129.8C382.4 130.3 382.5 130.9 382.4 131.4C382.3 131.8 382.1 132.4 381.9 132.6C381.7 132.9 381.4 132.9 381.2 133.0C380.9 133.0 380.7 133.0 380.4 132.9C380.2 132.8 379.9 132.8 379.7 132.5C379.5 132.2 379.3 131.8 379.2 131.3C379.2 130.9 379.2 130.3 379.2 129.8C379.3 129.3 379.4 128.8 379.5 128.4C379.6 127.9 379.7 127.4 379.9 127.1C380.0 126.7 380.3 126.4 380.5 126.3C380.7 126.2 380.9 126.3 381.1 126.4C381.3 126.6 381.5 126.9 381.7 127.2C381.9 127.6 382.0 128.0 382.1 128.4C382.2 128.8 382.3 129.3 382.4 129.8Z" fill="none" stroke="#b5b5b5" stroke-width="0.5"/>
<path d="M386.8 144.3C386.5 145.4 385.7 146.4 385.2 147.4C384.7 148.3 384.2 149.2 383.6 149.9C383.1 150.7 382.5 151.5 381.9 151.8C381.3 152.1 380.7 151.9 380.1 151.6C379.5 151.3 378.9 150.7 378.3 150.0C377.7 149.4 377.0 148.6 376.5 147.6C375.9 146.7 375.4 145.4 375.2 144.3C375.0 143.2 375.1 142.0 375.4 141.1C375.6 140.1 376.1 139.2 376.8 138.5C377.5 137.8 378.5 137.3 379.4 137.1C380.4 136.9 381.5 137.1 382.5 137.3C383.5 137.5 384.5 137.9 385.2 138.5C386.0 139.1 386.8 139.8 387.1 140.8C387.3 141.8 387.1 143.2 386.8 144.3Z" fill="none" stroke="#2a2a2a" stroke-width="0.8"/>
<path d="M384.9 143.6C384.8 144.4 384.7 145.3 384.4 146.0C384.1 146.7 383.6 147.4 383.1 147.8C382.7 148.3 382.2 148.6 381.8 148.7C381.3 148.9 380.9 149.0 380.4 148.9C380.0 148.7 379.5 148.4 379.1 147.9C378.6 147.4 378.2 146.7 377.9 146.0C377.5 145.2 377.1 144.4 377.0 143.6C376.9 142.8 376.9 141.9 377.1 141.2C377.3 140.6 377.8 140.1 378.3 139.6C378.8 139.2 379.4 138.9 380.0 138.6C380.7 138.3 381.6 137.9 382.3 138.0C383.0 138.1 383.8 138.5 384.3 139.1C384.7 139.6 384.9 140.6 385.0 141.3C385.1 142.1 385.0 142.8 384.9 143.6Z" fill="none" stroke="#666" stroke-width="0.6"/>
<path d="M383.4 142.2C383.5 142.6 383.5 143.2 383.5 143.6C383.5 144.1 383.4 144.5 383.3 144.9C383.2 145.3 383.0 145.7 382.8 145.9C382.5 146.1 382.1 146.1 381.8 146.0C381.5 146.0 381.2 145.7 380.8 145.6C380.5 145.4 380.1 145.3 379.8 145.0C379.5 144.7 379.1 144.3 378.9 143.9C378.7 143.4 378.6 142.9 378.6 142.4C378.7 142.0 378.8 141.6 379.0 141.2C379.1 140.9 379.3 140.5 379.6 140.3C379.9 140.1 380.3 140.0 380.7 139.9C381.0 139.9 381.4 140.0 381.8 140.2C382.1 140.3 382.5 140.6 382.8 140.9C383.1 141.2 383.3 141.7 383.4 142.2Z" fill="#c8c8c8" stroke="#555" stroke-width="0.6"/>
<path d="M378.9 132.5h0.6M383.4 133.4h0.6M377.5 127.8h0.6M383.2 139.0h0.6M383.4 130.1h0.6M381.2 124.3h0.6M380.9 143.7h0.6M378.6 148.7h0.6M380.9 144.2h0.6M386.9 140.0h0.6M384.0 138.8h0.6M381.5 128.9h0.6M381.4 127.7h0.6M383.4 143.6h0.6M379.3 139.3h0.6M383.4 148.5h0.6M380.8 149.2h0.6M381.8 145.0h0.6M381.9 127.0h0.6M377.7 124.6h0.6M380.0 122.0h0.6M383.9 141.0h0.6M380.9 145.3h0.6M380.6 134.7h0.6M383.8 143.9h0.6M379.4 133.6h0.6M378.5 120.7h0.6M378.9 124.3h0.6M381.3 131.1h0.6M383.8 136.2h0.6" stroke="#999" stroke-width="0.6" fill="none"/>
<path d="M378.1 163.4h0.6M380.6 154.1h0.6M381.3 159.3h0.6M378.5 151.5h0.6M382.6 160.4h0.6M381.3 153.5h0.6M379.6 161.8h0.6M381.0 163.2h0.6M376.3 150.9h0.6M384.3 161.4h0.6M381.6 159.9h0.6M380.4 157.8h0.6M382.1 157.6h0.6M380.7 162.4h0.6M380.1 151.1h0.6M379.9 163.2h0.6M375.7 152.0h0.6M381.9 161.4h0.6M382.4 150.2h0.6M377.7 155.2h0.6M383.5 155.0h0.6M381.9 163.4h0.6" stroke="#aaa" stroke-width="0.6" fill="none"/>
<g filter="url(#b1)" opacity="0.3"><ellipse cx="456.8" cy="150" rx="6.5" ry="11" transform="rotate(0 456.8 150)" stroke="none" stroke-width="0" fill="#888" /><ellipse cx="458" cy="125" rx="4" ry="9" transform="rotate(0 458 125)" stroke="none" stroke-width="0" fill="#aaa" /></g>
<path d="M463.7 125.8C463.4 127.2 462.7 128.6 462.1 129.9C461.5 131.2 460.9 132.5 460.3 133.4C459.7 134.4 459.0 135.4 458.4 135.6C457.8 135.8 457.2 135.2 456.7 134.5C456.3 133.9 456.0 132.8 455.5 131.9C455.0 131.0 454.4 130.4 453.8 129.2C453.3 128.1 452.4 126.5 452.2 125.0C452.0 123.5 452.2 121.6 452.6 120.4C453.0 119.2 453.9 118.3 454.7 117.6C455.5 116.9 456.4 116.4 457.4 116.2C458.3 116.0 459.4 116.0 460.3 116.3C461.2 116.6 462.2 117.3 462.8 118.2C463.4 119.0 463.9 120.2 464.1 121.5C464.2 122.7 464.0 124.4 463.7 125.8Z" fill="none" stroke="#a2a2a2" stroke-width="0.55" opacity="1"/>
<path d="M462.2 125.0C462.0 126.1 461.6 127.3 461.2 128.3C460.7 129.3 460.2 130.3 459.7 130.9C459.2 131.5 458.6 131.8 458.2 131.9C457.8 131.9 457.4 131.6 457.0 131.3C456.6 131.0 456.2 130.8 455.8 130.2C455.4 129.6 454.8 128.8 454.5 127.8C454.2 126.9 454.1 125.5 454.1 124.5C454.0 123.4 454.2 122.4 454.4 121.4C454.6 120.5 454.7 119.3 455.2 118.5C455.7 117.8 456.6 117.0 457.3 116.9C458.1 116.7 459.0 117.3 459.7 117.8C460.3 118.3 460.8 119.0 461.3 119.7C461.7 120.4 462.1 121.1 462.3 121.9C462.4 122.8 462.4 124.0 462.2 125.0Z" fill="none" stroke="#a2a2a2" stroke-width="0.55" opacity="1"/>
<path d="M460.6 124.3C460.4 124.9 460.0 125.5 459.7 126.1C459.4 126.7 459.2 127.4 458.9 127.8C458.6 128.3 458.3 128.9 458.0 129.1C457.7 129.3 457.4 129.2 457.2 128.9C456.9 128.7 456.6 128.2 456.4 127.8C456.1 127.3 455.8 126.7 455.6 126.1C455.5 125.4 455.3 124.6 455.2 123.9C455.2 123.2 455.3 122.4 455.4 121.8C455.6 121.2 455.8 120.6 456.1 120.1C456.5 119.7 457.0 119.4 457.5 119.2C458.0 119.1 458.5 119.3 459.0 119.4C459.5 119.6 460.0 119.9 460.3 120.3C460.7 120.7 461.0 121.3 461.0 122.0C461.1 122.7 460.8 123.6 460.6 124.3Z" fill="none" stroke="#a2a2a2" stroke-width="0.55" opacity="1"/>
<path d="M459.2 123.5C459.2 123.8 459.0 124.3 458.9 124.6C458.7 124.9 458.5 125.2 458.3 125.4C458.1 125.6 458.0 125.7 457.8 125.7C457.7 125.8 457.6 125.8 457.4 125.7C457.3 125.6 457.2 125.4 457.1 125.2C456.9 125.0 456.8 124.7 456.7 124.4C456.6 124.1 456.4 123.7 456.4 123.3C456.3 122.9 456.4 122.5 456.5 122.2C456.6 121.9 456.8 121.8 457.0 121.5C457.1 121.3 457.3 121.0 457.6 120.9C457.8 120.8 458.2 120.8 458.4 120.9C458.6 121.0 458.8 121.4 458.9 121.7C459.0 121.9 459.1 122.2 459.1 122.5C459.2 122.8 459.2 123.1 459.2 123.5Z" fill="none" stroke="#a2a2a2" stroke-width="0.55" opacity="1"/>
<path d="M463.5 150.7C463.0 152.4 462.4 154.0 461.7 155.6C461.0 157.2 460.3 159.0 459.4 160.1C458.6 161.3 457.6 162.1 456.7 162.3C455.9 162.5 455.1 162.0 454.4 161.4C453.7 160.8 453.1 159.7 452.5 158.5C452.0 157.3 451.4 155.9 451.0 154.3C450.5 152.8 450.0 151.1 449.8 149.3C449.6 147.5 449.4 145.2 449.9 143.6C450.3 142.0 451.3 140.4 452.4 139.6C453.4 138.8 454.9 139.0 456.1 138.9C457.4 138.8 458.6 139.0 459.7 139.3C460.9 139.6 462.4 139.9 463.2 140.9C464.0 141.9 464.5 143.7 464.6 145.4C464.6 147.0 464.0 149.0 463.5 150.7Z" fill="none" stroke="#8f8f8f" stroke-width="0.6" opacity="1"/>
<path d="M462.8 150.0C462.4 151.5 461.6 152.8 461.0 154.1C460.4 155.5 459.8 157.0 459.1 157.9C458.4 158.8 457.5 159.6 456.8 159.7C456.1 159.8 455.5 159.1 455.0 158.5C454.4 157.9 454.0 157.1 453.4 156.3C452.9 155.4 452.2 154.5 451.8 153.2C451.3 152.0 450.8 150.3 450.7 148.7C450.5 147.2 450.6 145.4 451.1 144.1C451.5 142.7 452.3 141.5 453.2 140.8C454.1 140.1 455.3 140.0 456.3 140.0C457.3 140.0 458.3 140.4 459.3 140.7C460.2 141.1 461.3 141.3 462.0 142.1C462.7 142.9 463.4 144.1 463.6 145.4C463.7 146.7 463.2 148.6 462.8 150.0Z" fill="none" stroke="#8f8f8f" stroke-width="0.6" opacity="1"/>
<path d="M461.4 149.3C461.1 150.4 460.7 151.6 460.2 152.6C459.8 153.6 459.2 154.6 458.6 155.3C458.1 156.1 457.5 156.7 456.9 157.0C456.3 157.3 455.7 157.6 455.2 157.2C454.7 156.9 454.1 156.0 453.8 155.0C453.5 154.1 453.4 152.7 453.1 151.6C452.9 150.5 452.6 149.5 452.5 148.3C452.3 147.1 452.0 145.6 452.3 144.5C452.5 143.4 453.2 142.3 453.9 141.8C454.6 141.2 455.6 141.3 456.5 141.2C457.3 141.1 458.2 140.9 459.0 141.1C459.9 141.3 460.9 141.7 461.4 142.4C461.9 143.2 462.1 144.6 462.1 145.7C462.1 146.9 461.7 148.1 461.4 149.3Z" fill="none" stroke="#8f8f8f" stroke-width="0.6" opacity="1"/>
<path d="M460.7 148.6C460.5 149.4 459.8 150.2 459.3 150.9C458.9 151.6 458.6 152.1 458.2 152.7C457.8 153.4 457.4 154.4 457.0 154.8C456.5 155.1 456.0 155.2 455.6 154.9C455.2 154.6 454.9 153.6 454.6 152.9C454.4 152.1 454.1 151.3 453.9 150.5C453.7 149.6 453.5 148.7 453.5 147.8C453.5 147.0 453.6 146.0 453.8 145.2C454.0 144.4 454.3 143.6 454.8 143.0C455.2 142.4 456.0 141.8 456.6 141.7C457.2 141.6 458.0 141.9 458.6 142.2C459.2 142.6 459.7 143.2 460.1 143.8C460.5 144.3 461.0 145.0 461.1 145.8C461.2 146.6 461.0 147.7 460.7 148.6Z" fill="none" stroke="#8f8f8f" stroke-width="0.6" opacity="1"/>
<path d="M459.5 147.9C459.4 148.5 459.2 149.2 458.9 149.7C458.7 150.3 458.3 150.8 457.9 151.1C457.6 151.5 457.3 151.7 457.0 151.9C456.7 152.0 456.4 152.2 456.1 152.0C455.8 151.9 455.6 151.4 455.4 150.9C455.2 150.4 455.1 149.7 455.0 149.1C454.9 148.5 454.8 148.0 454.7 147.4C454.7 146.7 454.6 146.0 454.7 145.5C454.9 144.9 455.1 144.3 455.5 143.9C455.8 143.5 456.3 143.2 456.8 143.1C457.2 143.0 457.8 143.0 458.2 143.3C458.6 143.5 459.0 144.0 459.2 144.5C459.4 145.0 459.5 145.6 459.5 146.1C459.5 146.7 459.6 147.3 459.5 147.9Z" fill="none" stroke="#8f8f8f" stroke-width="0.6" opacity="1"/>
<path d="M458.4 147.1C458.3 147.5 458.2 147.7 458.0 148.1C457.9 148.4 457.8 148.8 457.6 149.0C457.5 149.3 457.3 149.5 457.1 149.5C456.9 149.5 456.8 149.4 456.6 149.2C456.5 149.1 456.4 149.0 456.2 148.8C456.1 148.5 455.9 148.3 455.8 147.9C455.7 147.6 455.7 147.2 455.7 146.9C455.7 146.5 455.8 146.2 455.9 145.9C456.0 145.6 456.1 145.2 456.3 145.0C456.4 144.8 456.7 144.7 457.0 144.6C457.2 144.6 457.5 144.6 457.7 144.7C458.0 144.8 458.2 144.9 458.4 145.1C458.6 145.4 458.7 145.7 458.7 146.1C458.7 146.4 458.5 146.8 458.4 147.1Z" fill="none" stroke="#8f8f8f" stroke-width="0.6" opacity="1"/>
<path d="M458.6 160.2h0.6M456.6 167.0h0.6M457.6 164.6h0.6M458.4 162.4h0.6M458.7 166.7h0.6M455.6 162.2h0.6M451.4 164.8h0.6M452.9 166.5h0.6" stroke="#bbb" stroke-width="0.6" fill="none"/>
<rect x="365" y="32.7" width="36.5" height="23" fill="none" stroke="#000" stroke-width="1.5"/>
<rect x="443" y="32.5" width="36.3" height="23.2" fill="none" stroke="#000" stroke-width="1.5"/>
<rect x="364.8" y="113.3" width="36.7" height="23" fill="none" stroke="#000" stroke-width="1.5"/>
<rect x="443" y="113.3" width="36.3" height="23" fill="none" stroke="#000" stroke-width="1.5"/>
<text class="b" x="412.8" y="30.8" font-size="9.4" font-weight="bold" text-anchor="end" >15.6</text>
<text class="b" x="492.7" y="30.8" font-size="9.4" font-weight="bold" text-anchor="end" >18.8</text>
<text class="b" x="413" y="111.7" font-size="9.4" font-weight="bold" text-anchor="end" >37.5</text>
<text class="b" x="492.7" y="111.5" font-size="9.4" font-weight="bold" text-anchor="end" >20.2</text>
</g>
<g id="panelF">
<path d="M340.3 421V523.7" stroke="#1a1a1a" stroke-width="1.2" fill="none"/>
<path d="M340.3 416l-3.2 7h6.4z" fill="#000"/>
<text transform="translate(344.5 561.3) rotate(-90)" class="b" font-size="11.4" font-weight="bold">BrdU</text>
<text class="b" x="351.9" y="576.7" font-size="11.5" font-weight="bold" text-anchor="start" >FSC</text>
<path d="M379.5 572.85H492" stroke="#1a1a1a" stroke-width="1.25" fill="none"/>
<path d="M497 572.7l-7 -3.2v6.4z" fill="#000"/>
<text x="374.6" y="407.4" font-size="11.4" font-weight="normal" text-anchor="start" >WT</text>
<text x="448.5" y="407.4" font-size="11.2">IFNy<tspan dx="0.5" dy="-4.2" font-size="8" font-style="italic">-/-</tspan></text>
<text x="285.9" y="450" font-size="11.7" font-weight="normal" text-anchor="start" >Control</text>
<text x="288.8" y="535.9000000000001" font-size="11.6" font-weight="normal" text-anchor="start" >LCMV</text>
<rect x="351.5" y="414.4" width="67" height="67" fill="#fff" stroke="#1a1a1a" stroke-width="0.8"/>
<path d="M351.25 414.4V481.4" stroke="#111" stroke-width="1.3" fill="none"/>
<path d="M351.5 420.9h-1.9M351.5 436.0h-1.9M351.5 451.1h-1.9M351.5 466.2h-1.9M351.5 480.9h-1.9M352.1 481.4v1.9M364.8 481.4v1.9M377.5 481.4v1.9M390.2 481.4v1.9M402.9 481.4v1.9M415.6 481.4v1.9" stroke="#111" stroke-width="0.8" fill="none"/>
<path d="M351.5 431.5h-1.1M351.5 428.8h-1.1M351.5 426.9h-1.1M351.5 425.4h-1.1M351.5 424.2h-1.1M351.5 423.2h-1.1M351.5 422.4h-1.1M351.5 421.6h-1.1M351.5 446.6h-1.1M351.5 443.9h-1.1M351.5 442.0h-1.1M351.5 440.5h-1.1M351.5 439.3h-1.1M351.5 438.3h-1.1M351.5 437.5h-1.1M351.5 436.7h-1.1M351.5 461.7h-1.1M351.5 459.0h-1.1M351.5 457.1h-1.1M351.5 455.6h-1.1M351.5 454.4h-1.1M351.5 453.4h-1.1M351.5 452.6h-1.1M351.5 451.8h-1.1M351.5 476.5h-1.1M351.5 473.9h-1.1M351.5 472.0h-1.1M351.5 470.6h-1.1M351.5 469.5h-1.1M351.5 468.5h-1.1M351.5 467.6h-1.1M351.5 466.9h-1.1M351.5 416.4h-1.1M354.6 481.4v1.1M357.2 481.4v1.1M359.7 481.4v1.1M362.3 481.4v1.1M367.3 481.4v1.1M369.9 481.4v1.1M372.4 481.4v1.1M375.0 481.4v1.1M380.0 481.4v1.1M382.6 481.4v1.1M385.1 481.4v1.1M387.7 481.4v1.1M392.7 481.4v1.1M395.3 481.4v1.1M397.8 481.4v1.1M400.4 481.4v1.1M405.4 481.4v1.1M408.0 481.4v1.1M410.5 481.4v1.1M413.1 481.4v1.1" stroke="#222" stroke-width="0.55" fill="none"/>
<g filter="url(#b2)" opacity="0.7"><ellipse cx="381.2" cy="441.5" rx="9.9" ry="5.7" transform="rotate(-19 381.2 441.5)" stroke="none" stroke-width="0" fill="#111" /><path d="M373.8 448.0C373.4 456.0 375.4 458.5 378.1 463.5C380.3 459.5 381.2 458.0 383.2 454.3C386.3 454.3 391.2 453.4 390.8 450.7C390.6 448.2 385.8 448.3 383.3 448.1L380.8 447.0Z" fill="#111" stroke="#111" stroke-width="2.2"/><path d="M376.9 461.5L378.3 476.5L379.7 461.5Z" fill="#111" opacity="0.7"/></g>
<path d="M382.5 443.3h.6M376.9 469.8h.6M383.4 459.2h.6M378.7 463.7h.6M381.8 465.1h.6M385.6 461.3h.6M389.7 429.9h.6M376.1 433.6h.6M378.0 439.2h.6M377.4 462.3h.6M384.1 462.7h.6M379.0 471.5h.6M374.0 437.6h.6M385.7 439.4h.6M377.9 436.0h.6M370.4 454.4h.6M377.8 460.5h.6M398.5 437.2h.6M380.1 471.4h.6M385.1 457.5h.6M371.4 451.8h.6M360.3 439.6h.6M381.4 451.9h.6M387.2 449.4h.6M381.7 455.3h.6M400.6 438.5h.6M375.9 464.7h.6M386.5 439.3h.6M381.6 459.2h.6M380.9 461.9h.6M378.2 439.1h.6M372.2 442.1h.6M367.6 457.7h.6M380.0 470.3h.6M376.7 455.3h.6M376.7 458.0h.6M377.2 452.9h.6M376.6 469.0h.6M373.9 449.1h.6M385.5 463.3h.6M364.3 442.4h.6M377.5 469.0h.6M379.1 461.3h.6M390.9 439.9h.6M378.1 473.9h.6M367.6 445.4h.6M379.7 464.1h.6M379.5 469.2h.6M383.7 468.5h.6M386.4 447.8h.6M379.9 454.6h.6M380.6 449.6h.6M371.6 436.0h.6M376.0 444.9h.6M383.2 461.3h.6M364.6 445.6h.6M379.8 450.3h.6M388.7 443.1h.6M368.4 445.5h.6M375.4 436.1h.6M395.3 436.9h.6M381.2 466.2h.6M379.4 476.1h.6M376.5 465.6h.6M379.8 464.0h.6M376.0 462.7h.6M373.6 440.5h.6M369.8 440.3h.6M364.4 449.8h.6M372.3 460.6h.6M392.9 436.4h.6M400.6 442.5h.6M391.0 447.3h.6M382.8 457.5h.6M378.1 458.9h.6M402.5 438.7h.6M377.2 461.4h.6M381.6 438.1h.6M386.7 444.6h.6M377.5 476.2h.6M375.7 452.5h.6M393.2 429.2h.6M379.9 475.9h.6M380.3 447.4h.6M376.0 438.4h.6M382.1 434.7h.6M375.9 452.6h.6M378.1 468.6h.6M398.6 431.2h.6M378.2 471.8h.6M387.4 449.5h.6M389.5 443.2h.6M386.8 439.6h.6M380.2 473.5h.6M378.3 463.7h.6M383.6 445.7h.6M376.1 462.9h.6M369.6 466.9h.6M378.3 454.0h.6M380.6 463.6h.6M378.8 461.7h.6M371.8 443.4h.6M373.1 443.9h.6M380.4 437.7h.6M374.6 444.2h.6M391.2 427.0h.6M379.3 466.7h.6M385.6 439.3h.6M378.1 469.4h.6M376.1 450.5h.6M379.7 464.9h.6M389.1 446.9h.6M395.4 431.8h.6M385.5 446.2h.6M360.9 444.8h.6M361.6 442.7h.6M381.5 464.3h.6M378.0 456.3h.6M384.0 434.8h.6M370.6 445.4h.6M364.7 452.2h.6M374.5 459.7h.6M378.9 472.9h.6M382.1 435.5h.6M372.2 456.4h.6M377.9 436.9h.6M381.9 437.6h.6M385.1 438.1h.6M377.6 433.7h.6M383.2 456.9h.6M378.9 456.1h.6M371.3 441.4h.6M379.0 464.2h.6M387.3 434.8h.6M373.7 461.3h.6M378.2 463.9h.6M380.1 462.0h.6M385.5 450.9h.6M376.0 445.7h.6M380.6 468.2h.6M380.5 440.8h.6M369.7 445.6h.6M375.3 449.3h.6M400.6 435.4h.6M378.2 467.5h.6M375.8 452.5h.6M376.3 464.3h.6M378.3 462.5h.6M381.9 448.3h.6M378.9 433.6h.6M364.1 445.0h.6M368.8 438.3h.6M376.9 461.5h.6M379.4 472.7h.6M375.7 434.3h.6M377.2 474.3h.6M378.2 461.6h.6M381.4 444.6h.6M378.6 457.0h.6M375.1 464.8h.6M374.2 450.9h.6M381.5 443.8h.6M376.3 467.4h.6M379.5 446.4h.6M392.1 436.2h.6M378.0 470.6h.6M380.8 472.5h.6M378.3 471.0h.6M378.9 454.7h.6M369.9 442.0h.6M378.2 460.4h.6M386.2 450.0h.6M376.1 461.3h.6M377.7 454.7h.6M379.1 461.2h.6M385.5 439.3h.6M398.5 431.7h.6M381.4 447.0h.6M382.8 457.1h.6M368.1 440.9h.6M376.3 471.4h.6M381.8 462.7h.6M383.2 432.9h.6M383.0 438.1h.6M399.6 437.1h.6M374.7 450.4h.6M382.8 453.0h.6M384.3 439.4h.6M378.1 436.6h.6M384.0 459.4h.6M387.3 462.0h.6M377.7 463.8h.6M379.5 473.7h.6M383.8 465.9h.6M379.8 467.7h.6M389.8 444.3h.6M383.7 451.7h.6M378.0 469.5h.6M388.5 438.6h.6M373.4 445.4h.6M382.2 439.9h.6M382.4 436.8h.6M372.9 448.2h.6M379.1 475.5h.6M379.4 464.7h.6M381.1 431.0h.6M382.2 458.4h.6M379.4 464.1h.6M382.8 466.2h.6M384.8 469.2h.6M372.1 442.0h.6M395.1 428.8h.6M375.0 440.5h.6M379.2 464.8h.6M380.7 451.8h.6M396.9 443.1h.6M381.9 455.6h.6M388.3 445.0h.6M382.3 451.2h.6M394.9 441.5h.6M376.9 469.4h.6M389.4 432.4h.6M385.3 450.5h.6M369.3 438.5h.6M388.6 431.4h.6M382.9 433.4h.6M379.7 462.8h.6M383.8 459.9h.6M381.2 439.5h.6M383.8 455.7h.6" stroke="#222" stroke-width="0.6" fill="none" opacity="0.75"/>
<path d="M373.8 448.0C373.4 456.0 375.4 458.5 378.1 463.5C380.3 459.5 381.2 458.0 383.2 454.3C386.3 454.3 391.2 453.4 390.8 450.7C390.6 448.2 385.8 448.3 383.3 448.1L380.8 447.0Z" fill="#d6d6d6" stroke="#000" stroke-width="1.45" stroke-linejoin="round"/>
<ellipse cx="388.2" cy="450.8" rx="2.6" ry="1.4" transform="rotate(-6 388.2 450.8)" stroke="none" stroke-width="0" fill="#fff" />
<path d="M382.6 456.9C382.5 457.7 382.1 458.6 381.8 459.3C381.4 459.9 381.0 460.5 380.6 460.9C380.3 461.4 379.9 461.9 379.6 462.1C379.2 462.3 378.8 462.4 378.4 462.2C378.1 462.0 377.7 461.5 377.4 461.0C377.0 460.5 376.7 459.9 376.3 459.2C376.0 458.5 375.5 457.7 375.4 456.9C375.2 456.1 375.2 455.1 375.4 454.4C375.6 453.7 376.1 453.2 376.5 452.8C377.0 452.4 377.5 452.0 378.1 451.9C378.7 451.7 379.4 451.6 379.9 451.8C380.5 451.9 381.1 452.3 381.5 452.7C381.9 453.2 382.3 453.8 382.5 454.5C382.7 455.2 382.7 456.1 382.6 456.9Z" fill="#e6e6e6" stroke="#8a8a8a" stroke-width="0.55"/>
<path d="M380.7 456.1C380.7 456.6 380.6 457.0 380.4 457.5C380.3 457.9 380.1 458.3 379.9 458.6C379.8 458.9 379.5 459.1 379.3 459.2C379.1 459.3 378.9 459.3 378.7 459.3C378.5 459.2 378.2 459.0 378.0 458.7C377.8 458.4 377.7 457.9 377.5 457.5C377.4 457.0 377.3 456.6 377.2 456.1C377.2 455.6 377.1 455.1 377.2 454.7C377.3 454.3 377.5 453.8 377.7 453.6C377.9 453.3 378.3 453.3 378.6 453.2C378.8 453.1 379.2 453.0 379.5 453.0C379.8 453.1 380.2 453.1 380.4 453.4C380.6 453.7 380.8 454.2 380.8 454.7C380.9 455.1 380.8 455.6 380.7 456.1Z" fill="#f1f1f1" stroke="#aaa" stroke-width="0.45"/>
<ellipse cx="382.4" cy="443.1" rx="7.7" ry="2.5" transform="rotate(-19 382.4 443.1)" stroke="#000" stroke-width="1.5" fill="#fff" />
<rect x="430" y="414.4" width="67" height="67" fill="#fff" stroke="#1a1a1a" stroke-width="0.8"/>
<path d="M429.75 414.4V481.4" stroke="#111" stroke-width="1.3" fill="none"/>
<path d="M430 420.9h-1.9M430 436.0h-1.9M430 451.1h-1.9M430 466.2h-1.9M430 480.9h-1.9M430.6 481.4v1.9M443.3 481.4v1.9M456.0 481.4v1.9M468.7 481.4v1.9M481.4 481.4v1.9M494.1 481.4v1.9" stroke="#111" stroke-width="0.8" fill="none"/>
<path d="M430 431.5h-1.1M430 428.8h-1.1M430 426.9h-1.1M430 425.4h-1.1M430 424.2h-1.1M430 423.2h-1.1M430 422.4h-1.1M430 421.6h-1.1M430 446.6h-1.1M430 443.9h-1.1M430 442.0h-1.1M430 440.5h-1.1M430 439.3h-1.1M430 438.3h-1.1M430 437.5h-1.1M430 436.7h-1.1M430 461.7h-1.1M430 459.0h-1.1M430 457.1h-1.1M430 455.6h-1.1M430 454.4h-1.1M430 453.4h-1.1M430 452.6h-1.1M430 451.8h-1.1M430 476.5h-1.1M430 473.9h-1.1M430 472.0h-1.1M430 470.6h-1.1M430 469.5h-1.1M430 468.5h-1.1M430 467.6h-1.1M430 466.9h-1.1M430 416.4h-1.1M433.1 481.4v1.1M435.7 481.4v1.1M438.2 481.4v1.1M440.8 481.4v1.1M445.8 481.4v1.1M448.4 481.4v1.1M450.9 481.4v1.1M453.5 481.4v1.1M458.5 481.4v1.1M461.1 481.4v1.1M463.6 481.4v1.1M466.2 481.4v1.1M471.2 481.4v1.1M473.8 481.4v1.1M476.3 481.4v1.1M478.9 481.4v1.1M483.9 481.4v1.1M486.5 481.4v1.1M489.0 481.4v1.1M491.6 481.4v1.1" stroke="#222" stroke-width="0.55" fill="none"/>
<g filter="url(#b2)" opacity="0.7"><ellipse cx="459.2" cy="441.9" rx="9.5" ry="5.7" transform="rotate(-19 459.2 441.9)" stroke="none" stroke-width="0" fill="#111" /><path d="M452.2 448.2C451.8 456.2 453.8 459.0 456.6 464.0C458.8 460.0 459.0 458.2 461.0 454.5C464.1 454.5 469.0 453.7 468.6 451.0C468.4 448.5 463.6 448.6 461.1 448.4L458.6 447.2Z" fill="#111" stroke="#111" stroke-width="2.2"/><path d="M455.4 462.0L456.8 477.0L458.2 462.0Z" fill="#111" opacity="0.7"/></g>
<path d="M460.2 458.5h.6M455.4 434.1h.6M457.3 462.4h.6M469.3 439.9h.6M462.7 459.2h.6M457.0 472.5h.6M474.0 447.0h.6M462.4 441.1h.6M454.1 472.9h.6M450.9 434.2h.6M454.4 462.8h.6M452.7 461.8h.6M461.7 443.5h.6M461.4 438.8h.6M469.8 434.7h.6M465.3 446.0h.6M454.5 462.3h.6M467.1 426.3h.6M465.6 449.2h.6M455.7 462.5h.6M459.4 444.5h.6M454.9 471.8h.6M470.0 436.8h.6M460.0 457.1h.6M457.3 477.0h.6M458.0 458.7h.6M446.5 438.4h.6M467.0 440.2h.6M440.1 446.0h.6M456.0 472.2h.6M456.1 462.6h.6M467.9 448.5h.6M453.0 439.6h.6M456.2 471.6h.6M461.0 466.0h.6M457.8 450.4h.6M458.5 442.1h.6M459.7 466.6h.6M457.9 463.0h.6M457.1 454.6h.6M452.3 442.0h.6M456.8 470.1h.6M455.8 449.9h.6M457.7 438.7h.6M457.3 437.8h.6M468.4 438.1h.6M458.5 459.4h.6M457.3 472.0h.6M474.9 444.8h.6M449.6 459.5h.6M455.6 468.5h.6M459.1 449.7h.6M436.4 444.7h.6M457.8 468.7h.6M459.0 445.0h.6M461.4 470.3h.6M456.5 474.7h.6M453.3 443.3h.6M467.1 440.1h.6M459.7 466.1h.6M442.3 453.0h.6M449.0 445.5h.6M456.7 455.3h.6M450.2 455.1h.6M449.4 441.0h.6M457.8 463.2h.6M462.1 458.0h.6M458.5 471.3h.6M449.1 441.1h.6M455.1 465.6h.6M465.3 435.1h.6M465.8 419.9h.6M468.5 456.0h.6M464.6 449.2h.6M457.3 474.5h.6M447.4 446.3h.6M464.6 458.2h.6M445.4 434.8h.6M462.4 441.5h.6M456.1 465.8h.6M458.6 465.9h.6M441.1 448.0h.6M459.4 466.2h.6M457.1 457.0h.6M463.8 456.9h.6M462.1 448.6h.6M450.8 461.7h.6M450.4 447.1h.6M455.1 475.5h.6M459.7 443.2h.6M458.4 471.3h.6M456.6 475.2h.6M456.8 436.9h.6M456.7 474.2h.6M475.7 442.6h.6M447.8 447.3h.6M450.8 444.9h.6M453.7 444.5h.6M456.7 471.6h.6M468.9 436.8h.6M458.1 464.7h.6M454.9 434.4h.6M462.7 434.6h.6M451.6 439.8h.6M455.4 471.4h.6M457.0 455.8h.6M450.1 456.2h.6M458.1 455.2h.6M455.7 466.6h.6M454.0 445.3h.6M443.4 452.5h.6M461.7 452.9h.6M458.7 441.0h.6M449.9 447.1h.6M452.5 459.1h.6M441.9 448.8h.6M456.1 469.7h.6M454.6 465.4h.6M465.3 439.4h.6M460.3 438.8h.6M454.4 440.0h.6M453.8 457.9h.6M463.9 458.0h.6M458.7 464.6h.6M456.3 442.0h.6M475.8 437.7h.6M449.7 432.2h.6M455.6 469.6h.6M456.1 473.2h.6M458.1 435.3h.6M451.5 454.3h.6M453.8 441.8h.6M464.5 436.2h.6M456.9 438.8h.6M444.9 440.2h.6M465.1 440.4h.6M456.1 474.9h.6M457.0 467.3h.6M457.9 470.2h.6M457.4 461.9h.6M466.6 439.2h.6M454.8 459.7h.6M468.6 443.1h.6M451.8 447.7h.6M455.4 439.9h.6M467.1 439.8h.6M454.9 450.5h.6M456.0 431.8h.6M460.5 441.0h.6M460.8 457.7h.6M458.1 449.2h.6M459.6 456.5h.6M462.1 442.2h.6M454.2 456.1h.6M457.2 454.1h.6M456.9 454.7h.6M455.9 462.4h.6M458.5 463.1h.6M455.5 455.7h.6M459.7 463.8h.6M456.0 437.3h.6M460.6 434.7h.6M458.7 471.5h.6M457.7 473.0h.6M456.5 468.5h.6M456.0 469.3h.6M454.9 465.7h.6M464.6 449.4h.6M462.5 442.0h.6M475.2 441.5h.6M454.1 455.7h.6M459.8 439.5h.6M452.1 454.5h.6M447.9 445.4h.6M454.8 440.7h.6M453.5 450.4h.6M460.6 440.3h.6M453.1 457.1h.6M465.5 439.7h.6M458.9 458.0h.6M450.9 435.1h.6M462.3 443.1h.6M458.3 442.6h.6M466.6 445.0h.6M461.9 446.7h.6M456.0 466.2h.6M472.4 441.3h.6M450.1 440.8h.6M462.6 445.5h.6M457.2 471.4h.6M467.0 443.8h.6M463.0 439.5h.6M455.3 465.4h.6M460.8 450.8h.6M437.8 442.9h.6M452.9 461.6h.6M456.5 440.1h.6M454.9 442.7h.6M458.0 437.6h.6M454.4 440.3h.6M445.0 441.1h.6M456.0 476.0h.6M446.7 443.1h.6M456.0 464.5h.6M463.4 457.0h.6M459.0 453.2h.6M439.3 445.5h.6M457.7 437.1h.6M465.5 450.3h.6M456.0 477.0h.6M456.8 459.4h.6M450.9 459.3h.6M456.4 471.5h.6M457.9 437.3h.6M458.9 466.3h.6M456.4 468.8h.6M467.5 441.5h.6M466.4 444.2h.6M450.8 445.7h.6M460.6 450.6h.6M445.3 433.9h.6M452.8 442.2h.6M457.1 445.2h.6M453.0 436.5h.6M459.3 452.8h.6M460.3 448.0h.6M469.1 436.2h.6M451.6 451.2h.6M437.3 443.4h.6M456.8 475.0h.6" stroke="#222" stroke-width="0.6" fill="none" opacity="0.75"/>
<path d="M452.2 448.2C451.8 456.2 453.8 459.0 456.6 464.0C458.8 460.0 459.0 458.2 461.0 454.5C464.1 454.5 469.0 453.7 468.6 451.0C468.4 448.5 463.6 448.6 461.1 448.4L458.6 447.2Z" fill="#d6d6d6" stroke="#000" stroke-width="1.45" stroke-linejoin="round"/>
<ellipse cx="466.0" cy="451.1" rx="2.6" ry="1.4" transform="rotate(-6 466.0 451.1)" stroke="none" stroke-width="0" fill="#fff" />
<path d="M460.4 457.1C460.4 457.9 460.2 458.8 460.0 459.6C459.7 460.3 459.3 461.1 458.9 461.6C458.5 462.0 458.0 462.1 457.7 462.2C457.3 462.3 456.9 462.2 456.6 462.1C456.2 462.0 455.7 461.9 455.4 461.4C455.0 461.0 454.6 460.2 454.3 459.5C454.1 458.8 453.9 457.9 453.8 457.1C453.8 456.3 453.7 455.5 453.8 454.8C453.9 454.1 454.1 453.2 454.4 452.7C454.8 452.1 455.5 451.8 456.1 451.6C456.7 451.5 457.5 451.6 458.0 451.9C458.6 452.1 459.2 452.5 459.6 453.0C459.9 453.5 460.2 454.2 460.3 454.9C460.5 455.5 460.5 456.3 460.4 457.1Z" fill="#e6e6e6" stroke="#8a8a8a" stroke-width="0.55"/>
<path d="M458.9 456.3C458.9 456.8 458.8 457.4 458.7 457.8C458.5 458.2 458.3 458.5 458.0 458.8C457.8 459.0 457.6 459.2 457.4 459.3C457.2 459.4 457.0 459.6 456.8 459.5C456.6 459.4 456.3 459.2 456.1 458.9C455.9 458.6 455.8 458.1 455.7 457.6C455.6 457.2 455.4 456.8 455.4 456.3C455.3 455.8 455.2 455.3 455.3 454.9C455.4 454.4 455.5 454.0 455.8 453.7C456.0 453.4 456.3 453.3 456.6 453.2C456.9 453.1 457.3 453.0 457.6 453.1C457.9 453.2 458.2 453.5 458.4 453.9C458.6 454.2 458.7 454.6 458.8 455.0C458.8 455.4 458.9 455.8 458.9 456.3Z" fill="#f1f1f1" stroke="#aaa" stroke-width="0.45"/>
<ellipse cx="460.4" cy="443.5" rx="7.3" ry="2.5" transform="rotate(-19 460.4 443.5)" stroke="#000" stroke-width="1.5" fill="#fff" />
<rect x="351.5" y="495" width="67" height="67" fill="#fff" stroke="#1a1a1a" stroke-width="0.8"/>
<path d="M351.25 495V562" stroke="#111" stroke-width="1.3" fill="none"/>
<path d="M351.5 501.5h-1.9M351.5 516.6h-1.9M351.5 531.7h-1.9M351.5 546.8h-1.9M351.5 561.5h-1.9M352.1 562v1.9M364.8 562v1.9M377.5 562v1.9M390.2 562v1.9M402.9 562v1.9M415.6 562v1.9" stroke="#111" stroke-width="0.8" fill="none"/>
<path d="M351.5 512.1h-1.1M351.5 509.4h-1.1M351.5 507.5h-1.1M351.5 506.0h-1.1M351.5 504.8h-1.1M351.5 503.8h-1.1M351.5 503.0h-1.1M351.5 502.2h-1.1M351.5 527.2h-1.1M351.5 524.5h-1.1M351.5 522.6h-1.1M351.5 521.1h-1.1M351.5 519.9h-1.1M351.5 518.9h-1.1M351.5 518.1h-1.1M351.5 517.3h-1.1M351.5 542.3h-1.1M351.5 539.6h-1.1M351.5 537.7h-1.1M351.5 536.2h-1.1M351.5 535.0h-1.1M351.5 534.0h-1.1M351.5 533.2h-1.1M351.5 532.4h-1.1M351.5 557.1h-1.1M351.5 554.5h-1.1M351.5 552.6h-1.1M351.5 551.2h-1.1M351.5 550.1h-1.1M351.5 549.1h-1.1M351.5 548.2h-1.1M351.5 547.5h-1.1M351.5 497.0h-1.1M354.6 562v1.1M357.2 562v1.1M359.7 562v1.1M362.3 562v1.1M367.3 562v1.1M369.9 562v1.1M372.4 562v1.1M375.0 562v1.1M380.0 562v1.1M382.6 562v1.1M385.1 562v1.1M387.7 562v1.1M392.7 562v1.1M395.3 562v1.1M397.8 562v1.1M400.4 562v1.1M405.4 562v1.1M408.0 562v1.1M410.5 562v1.1M413.1 562v1.1" stroke="#222" stroke-width="0.55" fill="none"/>
<g filter="url(#b2)" opacity="0.7"><ellipse cx="380.5" cy="520.6" rx="11.100000000000001" ry="7.3" transform="rotate(-23 380.5 520.6)" stroke="none" stroke-width="0" fill="#111" /><path d="M373.0 526.6C372.6 534.6 374.6 540.6 377.7 545.6C379.9 541.6 381.5 536.6 383.5 532.9C386.6 532.9 390.9 533.6 390.5 530.9C390.3 528.4 386.1 528.5 383.6 528.3L381.1 525.6Z" fill="#111" stroke="#111" stroke-width="2.2"/><path d="M376.5 543.6L377.9 558.6L379.3 543.6Z" fill="#111" opacity="0.7"/></g>
<path d="M377.1 517.2h.6M368.1 513.5h.6M378.3 520.5h.6M370.9 533.9h.6M378.7 529.7h.6M386.8 506.0h.6M391.4 519.9h.6M378.5 510.7h.6M370.7 520.5h.6M403.7 516.2h.6M380.0 551.4h.6M383.5 544.4h.6M371.0 514.4h.6M379.2 554.1h.6M386.1 506.8h.6M371.1 519.8h.6M356.0 518.3h.6M382.3 540.7h.6M380.2 544.2h.6M378.3 522.7h.6M379.8 542.3h.6M391.8 507.1h.6M383.6 534.0h.6M382.8 541.4h.6M391.7 546.4h.6M368.3 523.0h.6M376.2 556.5h.6M378.1 517.5h.6M388.2 513.4h.6M375.6 534.0h.6M381.7 533.3h.6M384.1 522.3h.6M378.8 553.6h.6M379.0 521.7h.6M390.2 532.6h.6M393.9 522.9h.6M379.4 522.8h.6M377.4 547.6h.6M379.2 515.9h.6M377.4 517.3h.6M379.9 542.1h.6M375.8 526.1h.6M391.1 522.2h.6M378.9 537.8h.6M375.8 516.0h.6M384.4 540.3h.6M387.0 528.4h.6M373.5 517.9h.6M377.1 542.6h.6M391.5 508.5h.6M381.8 529.3h.6M373.1 535.2h.6M391.0 510.7h.6M379.8 545.2h.6M377.6 558.4h.6M377.9 528.9h.6M369.8 524.8h.6M376.9 527.7h.6M394.9 523.6h.6M372.6 532.5h.6M375.1 537.8h.6M379.0 549.2h.6M378.4 534.2h.6M383.2 528.1h.6M371.8 530.7h.6M387.5 533.4h.6M354.0 514.7h.6M380.1 519.3h.6M377.9 556.1h.6M378.5 514.8h.6M374.4 515.3h.6M371.4 526.4h.6M376.5 518.5h.6M370.8 537.0h.6M375.4 517.4h.6M376.3 529.3h.6M388.0 514.3h.6M379.5 521.9h.6M378.6 553.0h.6M401.7 520.2h.6M389.9 528.8h.6M372.6 536.5h.6M398.4 516.7h.6M388.2 523.9h.6M377.1 547.8h.6M380.1 528.0h.6M380.7 512.4h.6M382.2 528.9h.6M373.8 519.8h.6M383.1 511.2h.6M381.0 515.5h.6M363.7 520.8h.6M371.2 526.3h.6M373.7 518.4h.6M373.4 536.0h.6M379.9 518.7h.6M384.1 519.9h.6M376.4 520.9h.6M368.7 529.1h.6M370.7 516.0h.6M378.9 549.0h.6M374.1 520.9h.6M379.0 543.1h.6M385.4 512.5h.6M379.3 548.2h.6M373.4 517.7h.6M379.0 526.5h.6M377.0 548.6h.6M372.7 511.3h.6M378.6 546.2h.6M378.0 531.5h.6M381.5 539.2h.6M380.6 509.9h.6M373.6 539.0h.6M384.3 531.7h.6M379.5 557.5h.6M383.2 520.9h.6M382.2 533.0h.6M383.1 543.0h.6M371.9 517.0h.6M371.1 523.4h.6M381.4 533.2h.6M377.5 548.6h.6M401.5 510.5h.6M375.3 546.7h.6M384.6 521.5h.6M390.8 519.4h.6M377.9 509.8h.6M377.2 524.0h.6M375.7 524.2h.6M393.0 528.8h.6M383.2 536.2h.6M374.2 521.0h.6M385.6 511.8h.6M375.2 544.1h.6M376.9 548.8h.6M379.7 555.9h.6M367.2 523.2h.6M360.8 523.3h.6M377.8 550.0h.6M375.9 539.9h.6M376.5 542.4h.6M379.4 523.3h.6M378.1 526.9h.6M386.7 516.6h.6M377.5 519.8h.6M379.8 535.0h.6M382.1 514.3h.6M395.4 517.2h.6M378.0 558.4h.6M378.7 548.5h.6M377.1 556.2h.6M358.7 516.5h.6M394.7 508.5h.6M393.3 505.9h.6M388.3 521.7h.6M371.0 528.7h.6M386.1 521.3h.6M371.4 535.2h.6M366.3 518.5h.6M393.0 514.3h.6M380.6 515.8h.6M388.7 512.6h.6M377.2 556.9h.6M373.0 533.0h.6M397.7 524.2h.6M385.0 512.6h.6M375.6 532.3h.6M387.0 523.8h.6M393.4 502.9h.6M390.7 521.9h.6M369.3 527.8h.6M365.3 521.6h.6M384.0 536.2h.6M378.3 549.2h.6M379.4 551.5h.6M382.5 524.3h.6M397.9 519.8h.6M372.3 515.6h.6M377.5 536.5h.6M396.0 522.4h.6M384.8 533.9h.6M366.0 520.4h.6M368.1 531.6h.6M401.2 513.7h.6M355.7 517.9h.6M381.8 525.6h.6M378.2 520.6h.6M376.5 549.5h.6M394.9 524.9h.6M365.1 533.5h.6M387.5 512.5h.6M379.3 552.5h.6M374.8 527.0h.6M380.0 530.5h.6M386.9 530.1h.6M379.6 517.7h.6M374.4 510.5h.6M378.1 554.6h.6M383.5 514.0h.6M397.7 517.6h.6M380.7 555.3h.6M380.8 523.0h.6M354.8 520.8h.6M379.0 551.1h.6M377.0 509.5h.6M385.2 533.7h.6M379.0 523.7h.6M382.5 511.0h.6M379.1 535.9h.6M376.0 513.5h.6M380.4 536.2h.6M374.4 534.1h.6M377.8 554.5h.6M379.7 534.8h.6M378.7 539.4h.6M373.3 520.9h.6M378.8 530.9h.6M376.5 519.7h.6M387.1 522.4h.6M393.5 511.5h.6M378.9 543.9h.6M376.3 509.4h.6M376.7 554.3h.6M379.2 554.0h.6M371.4 522.0h.6M365.2 513.3h.6M390.2 531.3h.6M370.8 512.2h.6M372.9 525.0h.6" stroke="#222" stroke-width="0.6" fill="none" opacity="0.75"/>
<path d="M373.0 526.6C372.6 534.6 374.6 540.6 377.7 545.6C379.9 541.6 381.5 536.6 383.5 532.9C386.6 532.9 390.9 533.6 390.5 530.9C390.3 528.4 386.1 528.5 383.6 528.3L381.1 525.6Z" fill="#b4b4b4" stroke="#000" stroke-width="1.45" stroke-linejoin="round"/>
<ellipse cx="387.9" cy="531.0" rx="2.6" ry="1.4" transform="rotate(-6 387.9 531.0)" stroke="none" stroke-width="0" fill="#fff" />
<path d="M382.2 535.7C382.1 536.5 381.8 537.4 381.5 538.2C381.3 539.0 381.0 539.9 380.6 540.5C380.2 541.1 379.8 541.6 379.4 541.7C379.0 541.9 378.6 541.6 378.2 541.4C377.8 541.2 377.4 540.9 376.9 540.4C376.5 539.9 376.0 539.3 375.7 538.5C375.4 537.7 375.1 536.6 375.1 535.7C375.1 534.8 375.3 534.1 375.5 533.3C375.6 532.6 375.8 531.9 376.2 531.2C376.6 530.6 377.1 529.9 377.7 529.6C378.3 529.3 379.2 529.3 379.8 529.5C380.4 529.8 381.1 530.3 381.5 530.9C381.9 531.5 382.2 532.3 382.3 533.1C382.5 533.9 382.3 534.9 382.2 535.7Z" fill="#cdcdcd" stroke="#777" stroke-width="0.6"/>
<path d="M381.0 535.1C380.9 535.7 380.8 536.3 380.6 536.8C380.5 537.3 380.2 537.6 380.0 537.9C379.7 538.2 379.5 538.4 379.3 538.6C379.1 538.7 378.8 539.0 378.6 538.9C378.3 538.9 378.0 538.6 377.8 538.3C377.6 537.9 377.5 537.3 377.3 536.7C377.2 536.2 377.1 535.7 377.0 535.1C376.9 534.5 376.9 533.9 377.0 533.4C377.0 532.9 377.3 532.5 377.5 532.1C377.8 531.8 378.1 531.7 378.4 531.6C378.8 531.4 379.1 531.3 379.5 531.4C379.8 531.5 380.2 531.7 380.4 532.0C380.7 532.4 380.8 532.9 380.9 533.4C381.0 533.9 381.0 534.5 381.0 535.1Z" fill="#dedede" stroke="#999" stroke-width="0.5"/>
<path d="M373.5 525.7C372.9 525.3 372.5 524.9 372.5 524.4C372.5 523.9 372.9 523.2 373.5 522.5C374.2 521.9 375.2 521.2 376.3 520.5C377.4 519.8 378.8 519.0 380.1 518.4C381.4 517.9 383.0 517.3 384.3 517.0C385.6 516.6 386.7 516.5 387.6 516.6C388.5 516.6 389.1 516.9 389.5 517.2C389.9 517.5 390.2 518.0 390.1 518.6C390.1 519.2 389.7 520.0 389.3 520.8C388.8 521.5 387.9 522.3 387.3 523.0C386.6 523.6 385.9 524.1 385.2 524.6C384.5 525.1 384.0 525.5 383.3 525.9C382.5 526.2 381.8 526.5 381.0 526.7C380.1 526.9 379.2 526.9 378.3 526.9C377.4 526.9 376.4 526.7 375.6 526.5C374.8 526.3 374.0 526.1 373.5 525.7Z" fill="#c4c4c4" stroke="#000" stroke-width="1.3"/>
<path d="M383.9 521.3C384.0 521.6 384.1 522.0 384.0 522.4C383.8 522.7 383.4 523.2 383.0 523.6C382.5 524.0 381.9 524.4 381.3 524.8C380.7 525.1 380.0 525.4 379.4 525.6C378.7 525.8 378.0 525.8 377.5 525.8C377.0 525.8 376.6 525.7 376.1 525.6C375.7 525.5 375.2 525.4 374.9 525.1C374.7 524.9 374.6 524.5 374.7 524.1C374.9 523.7 375.5 523.2 376.1 522.8C376.6 522.4 377.2 522.1 377.8 521.7C378.4 521.4 379.0 521.1 379.6 520.8C380.3 520.6 381.1 520.4 381.6 520.4C382.2 520.4 382.7 520.5 383.0 520.7C383.4 520.8 383.7 521.1 383.9 521.3Z" fill="#e2e2e2" stroke="#8a8a8a" stroke-width="0.5"/>
<ellipse cx="386.7" cy="520.2" rx="2.6" ry="1.1" transform="rotate(-23 386.7 520.2)" stroke="none" stroke-width="0" fill="#fff" />
<rect x="430" y="495" width="67" height="67" fill="#fff" stroke="#1a1a1a" stroke-width="0.8"/>
<path d="M429.75 495V562" stroke="#111" stroke-width="1.3" fill="none"/>
<path d="M430 501.5h-1.9M430 516.6h-1.9M430 531.7h-1.9M430 546.8h-1.9M430 561.5h-1.9M430.6 562v1.9M443.3 562v1.9M456.0 562v1.9M468.7 562v1.9M481.4 562v1.9M494.1 562v1.9" stroke="#111" stroke-width="0.8" fill="none"/>
<path d="M430 512.1h-1.1M430 509.4h-1.1M430 507.5h-1.1M430 506.0h-1.1M430 504.8h-1.1M430 503.8h-1.1M430 503.0h-1.1M430 502.2h-1.1M430 527.2h-1.1M430 524.5h-1.1M430 522.6h-1.1M430 521.1h-1.1M430 519.9h-1.1M430 518.9h-1.1M430 518.1h-1.1M430 517.3h-1.1M430 542.3h-1.1M430 539.6h-1.1M430 537.7h-1.1M430 536.2h-1.1M430 535.0h-1.1M430 534.0h-1.1M430 533.2h-1.1M430 532.4h-1.1M430 557.1h-1.1M430 554.5h-1.1M430 552.6h-1.1M430 551.2h-1.1M430 550.1h-1.1M430 549.1h-1.1M430 548.2h-1.1M430 547.5h-1.1M430 497.0h-1.1M433.1 562v1.1M435.7 562v1.1M438.2 562v1.1M440.8 562v1.1M445.8 562v1.1M448.4 562v1.1M450.9 562v1.1M453.5 562v1.1M458.5 562v1.1M461.1 562v1.1M463.6 562v1.1M466.2 562v1.1M471.2 562v1.1M473.8 562v1.1M476.3 562v1.1M478.9 562v1.1M483.9 562v1.1M486.5 562v1.1M489.0 562v1.1M491.6 562v1.1" stroke="#222" stroke-width="0.55" fill="none"/>
<g filter="url(#b2)" opacity="0.42"><ellipse cx="460.40000000000003" cy="516.4" rx="11.4" ry="9.200000000000001" transform="rotate(-24 460.40000000000003 516.4)" stroke="none" stroke-width="0" fill="#777" /><path d="M451.4 527.6C451.0 535.6 453.0 540.5 456.9 545.5C459.1 541.5 459.2 537.6 461.2 533.9C464.3 533.9 469.6 532.6 469.2 529.9C469.0 527.4 463.8 527.5 461.3 527.3L458.8 526.6Z" fill="#777" stroke="#777" stroke-width="2.2"/><path d="M455.7 543.5L457.1 558.5L458.5 543.5Z" fill="#777" opacity="0.7"/></g>
<path d="M436.7 520.2h.6M461.5 517.5h.6M466.7 512.9h.6M463.0 536.5h.6M449.6 529.6h.6M482.6 514.9h.6M457.8 538.6h.6M464.7 512.1h.6M457.7 536.8h.6M437.0 529.3h.6M462.7 522.6h.6M444.1 504.7h.6M478.6 511.3h.6M454.5 532.7h.6M457.3 551.6h.6M456.4 555.8h.6M459.7 546.8h.6M457.2 518.4h.6M451.1 521.2h.6M468.1 519.8h.6M446.1 518.6h.6M457.1 539.8h.6M458.4 541.4h.6M444.9 516.9h.6M452.2 516.5h.6M462.9 541.2h.6M460.9 547.4h.6M437.4 523.9h.6M451.9 535.1h.6M460.6 525.9h.6M458.1 536.3h.6M473.2 504.1h.6M447.2 526.9h.6M457.0 555.1h.6M459.1 551.9h.6M462.7 525.5h.6M466.9 509.6h.6M446.2 514.0h.6M458.4 527.7h.6M456.5 557.6h.6M448.4 538.2h.6M455.0 533.1h.6M457.5 537.0h.6M456.3 509.8h.6M458.7 516.9h.6M458.2 506.3h.6M459.7 536.0h.6M456.0 553.8h.6M450.1 514.6h.6M456.9 536.1h.6M454.2 544.6h.6M458.0 557.6h.6M457.9 547.6h.6M468.8 516.3h.6M446.5 526.7h.6M457.5 553.8h.6M457.5 550.4h.6M454.1 524.7h.6M452.5 537.9h.6M462.0 512.1h.6M465.4 524.1h.6M457.1 519.9h.6M447.3 510.7h.6M445.6 516.5h.6M437.8 524.3h.6M456.6 534.8h.6M462.5 532.3h.6M459.2 550.7h.6M457.0 545.9h.6M465.4 527.4h.6M489.1 521.2h.6M457.4 540.6h.6M457.8 556.8h.6M457.2 537.3h.6M452.3 503.5h.6M458.9 497.9h.6M452.6 534.1h.6M449.2 545.9h.6M452.1 525.0h.6M457.2 530.1h.6M459.1 535.1h.6M461.8 522.6h.6M457.1 551.2h.6M463.9 530.6h.6M464.6 521.7h.6M456.9 506.4h.6M454.7 516.4h.6M459.5 506.7h.6M452.7 538.1h.6M455.9 557.9h.6M455.7 508.5h.6M460.5 533.4h.6M461.5 536.6h.6M474.3 504.6h.6M460.6 517.6h.6M473.4 507.7h.6M458.1 554.1h.6M457.0 557.1h.6M470.1 504.7h.6M449.0 519.1h.6M465.0 514.6h.6M455.9 549.5h.6M460.6 543.7h.6M444.5 523.4h.6M458.1 503.0h.6M451.6 529.3h.6M471.7 524.8h.6M486.5 501.7h.6M467.4 513.6h.6M451.7 524.6h.6M460.6 526.0h.6M461.0 542.8h.6M456.6 500.7h.6M453.4 508.4h.6M456.9 551.3h.6M460.6 538.0h.6M478.2 497.3h.6M435.8 531.2h.6M462.2 533.1h.6M466.4 483.6h.6M463.0 529.1h.6M470.3 516.8h.6M465.4 511.1h.6M457.2 554.7h.6M461.5 512.9h.6M451.4 534.2h.6M458.7 549.1h.6M457.4 549.5h.6M455.2 553.7h.6M467.3 512.4h.6M454.2 535.0h.6M471.1 515.4h.6M457.0 532.7h.6M440.0 508.0h.6M453.4 519.4h.6M455.3 546.9h.6M457.3 554.7h.6M456.9 544.2h.6M455.1 513.1h.6M453.2 544.3h.6M463.0 520.4h.6M455.5 535.5h.6M461.8 507.4h.6M459.6 545.6h.6M474.5 514.1h.6M461.2 515.1h.6M457.7 541.7h.6M457.8 537.1h.6M443.3 530.3h.6M455.0 549.7h.6" stroke="#666" stroke-width="0.6" fill="none" opacity="0.75"/>
<path d="M451.4 527.6C451.0 535.6 453.0 540.5 456.9 545.5C459.1 541.5 459.2 537.6 461.2 533.9C464.3 533.9 469.6 532.6 469.2 529.9C469.0 527.4 463.8 527.5 461.3 527.3L458.8 526.6Z" fill="#a8a8a8" stroke="#5a5a5a" stroke-width="0.9" stroke-linejoin="round"/>
<ellipse cx="466.6" cy="530.0" rx="2.6" ry="1.4" transform="rotate(-6 466.6 530.0)" stroke="none" stroke-width="0" fill="#fff" />
<path d="M460.4 536.5C460.3 537.3 460.1 538.2 459.8 539.0C459.5 539.7 459.1 540.5 458.7 541.0C458.3 541.5 457.8 541.8 457.4 541.9C457.0 542.1 456.6 542.0 456.2 541.8C455.8 541.6 455.4 541.4 455.0 541.0C454.6 540.5 454.1 539.7 453.9 539.0C453.6 538.2 453.5 537.3 453.4 536.5C453.4 535.7 453.3 535.0 453.4 534.2C453.5 533.4 453.5 532.4 453.9 531.8C454.3 531.2 455.1 530.6 455.7 530.5C456.4 530.4 457.2 530.9 457.8 531.2C458.4 531.5 458.9 532.0 459.3 532.5C459.7 532.9 460.1 533.5 460.3 534.1C460.5 534.8 460.5 535.7 460.4 536.5Z" fill="#8c8c8c" stroke="#777" stroke-width="0.5"/>
<path d="M459.2 535.5C459.1 535.9 458.9 536.3 458.7 536.7C458.6 537.0 458.5 537.4 458.3 537.7C458.1 538.0 457.9 538.4 457.7 538.6C457.5 538.7 457.3 538.6 457.1 538.4C456.9 538.3 456.7 538.1 456.5 537.8C456.3 537.5 456.0 537.3 455.8 536.9C455.7 536.5 455.5 535.9 455.5 535.5C455.5 535.1 455.6 534.6 455.7 534.3C455.9 533.9 456.0 533.6 456.2 533.3C456.4 533.0 456.6 532.7 456.9 532.6C457.2 532.4 457.6 532.5 457.9 532.6C458.2 532.7 458.5 532.9 458.7 533.1C459.0 533.4 459.2 533.7 459.3 534.1C459.4 534.5 459.3 535.1 459.2 535.5Z" fill="#b8b8b8" stroke="#888" stroke-width="0.4"/>
<ellipse cx="458.40000000000003" cy="534.5" rx="0.7" ry="0.8" transform="rotate(0 458.40000000000003 534.5)" stroke="none" stroke-width="0" fill="#fff" />
<path d="M471.4 513.6C472.1 514.4 472.5 515.4 472.4 516.3C472.3 517.3 471.6 518.3 471.0 519.3C470.4 520.3 469.7 521.3 468.7 522.3C467.7 523.4 466.4 524.8 464.9 525.5C463.5 526.2 461.4 526.7 460.0 526.7C458.6 526.7 457.5 525.9 456.5 525.4C455.6 525.0 455.0 524.5 454.2 524.0C453.4 523.5 452.2 523.2 451.7 522.4C451.2 521.6 451.0 520.3 451.3 519.2C451.6 518.1 452.7 516.9 453.5 515.9C454.2 514.9 455.1 514.1 455.9 513.3C456.8 512.5 457.5 511.6 458.5 511.1C459.5 510.5 460.8 510.1 461.9 510.1C463.1 510.0 464.2 510.5 465.3 510.8C466.4 511.1 467.4 511.5 468.5 512.0C469.5 512.5 470.8 512.9 471.4 513.6Z" fill="#c2c2c2" stroke="#5a5a5a" stroke-width="0.8"/>
<path d="M468.7 514.9C469.0 515.5 469.0 516.3 468.8 517.0C468.5 517.6 467.7 518.3 467.2 518.9C466.6 519.6 466.1 520.1 465.5 520.8C464.8 521.5 464.2 522.5 463.3 523.1C462.3 523.8 460.8 524.5 459.7 524.7C458.6 524.9 457.6 524.5 456.8 524.2C456.1 523.9 455.8 523.3 455.3 522.9C454.8 522.4 454.1 522.1 453.8 521.5C453.6 521.0 453.3 520.1 453.5 519.4C453.8 518.7 454.6 517.7 455.3 517.1C455.9 516.4 456.7 516.0 457.4 515.5C458.0 515.0 458.5 514.5 459.2 514.0C459.9 513.5 460.7 513.0 461.6 512.7C462.5 512.5 463.5 512.5 464.4 512.6C465.3 512.8 466.2 513.1 466.9 513.5C467.6 513.9 468.4 514.3 468.7 514.9Z" fill="#cfcfcf" stroke="#8a8a8a" stroke-width="0.5"/>
<path d="M464.5 516.3C464.7 516.6 464.8 517.1 464.6 517.5C464.5 517.9 463.9 518.4 463.5 518.8C463.0 519.3 462.6 519.6 462.0 520.0C461.4 520.3 460.8 520.7 460.2 520.9C459.5 521.1 458.8 521.3 458.2 521.3C457.6 521.4 456.9 521.4 456.4 521.2C456.0 521.0 455.6 520.6 455.6 520.2C455.6 519.8 456.0 519.1 456.3 518.7C456.6 518.2 457.1 517.9 457.4 517.5C457.7 517.1 457.8 516.6 458.2 516.2C458.6 515.8 459.3 515.4 459.8 515.2C460.4 515.1 461.0 515.2 461.6 515.3C462.1 515.4 462.5 515.5 463.0 515.7C463.5 515.8 464.2 515.9 464.5 516.3Z" fill="#dcdcdc" stroke="#999" stroke-width="0.45"/>
<path d="M368.8 427.5 L396.6 427.5 L396.6 442.3 L368.8 450.2Z" fill="none" stroke="#000" stroke-width="1.5" stroke-linejoin="miter"/>
<path d="M447.3 427.5 L475.1 427.5 L475.1 442.3 L447.3 450.2Z" fill="none" stroke="#000" stroke-width="1.5" stroke-linejoin="miter"/>
<path d="M368.8 506.4 L396.8 506.4 L396.8 521.0 L368.8 529.3Z" fill="none" stroke="#000" stroke-width="1.5" stroke-linejoin="miter"/>
<path d="M447.3 506.4 L475.3 506.4 L475.3 521.0 L447.3 529.3Z" fill="none" stroke="#000" stroke-width="1.5" stroke-linejoin="miter"/>
<text class="b" x="353.6" y="423.7" font-size="9.1" font-weight="bold" text-anchor="start" >19.6</text>
<text class="b" x="432" y="423.5" font-size="9.1" font-weight="bold" text-anchor="start" >18.1</text>
<text class="b" x="353.6" y="503.9" font-size="9.1" font-weight="bold" text-anchor="start" >30.6</text>
<text class="b" x="432" y="503.9" font-size="9.1" font-weight="bold" text-anchor="start" >44.4</text>
</g>
</svg>
</body></html>
